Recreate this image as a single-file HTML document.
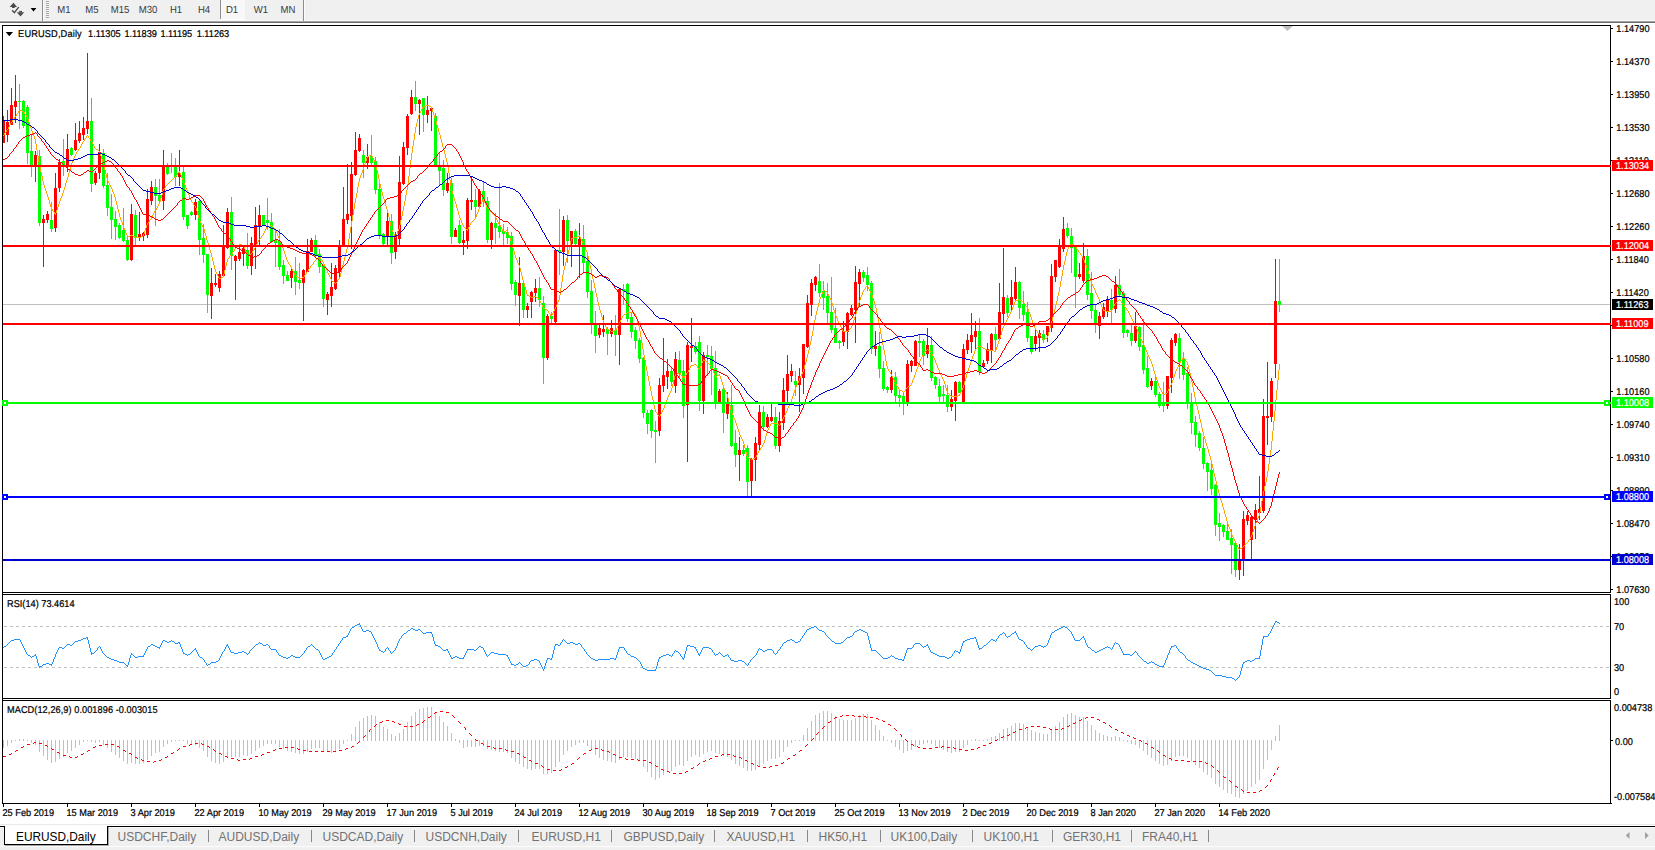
<!DOCTYPE html>
<html><head><meta charset="utf-8"><title>EURUSD,Daily</title>
<style>
html,body{margin:0;padding:0;background:#fff;}
body{width:1655px;height:850px;position:relative;overflow:hidden;font-family:"Liberation Sans",sans-serif;}
.abs{position:absolute;}
#tb{left:0;top:0;width:1655px;height:21px;background:#f0f0f0;}
.tf{position:absolute;top:4.6px;font-size:10.3px;color:#3a3a3a;line-height:12px;white-space:nowrap;transform:translateX(-50%) scale(0.93,1);text-rendering:geometricPrecision;}
#tabs{left:0;top:825px;width:1655px;height:25px;background:#f0f0f0;}
.tab{position:absolute;top:4.5px;font-size:12px;line-height:14px;color:#727272;white-space:nowrap;}
.sep{position:absolute;top:5px;width:1px;height:12px;background:#8a8a8a;}
svg text{font-family:"Liberation Sans",sans-serif;font-size:9.9px;text-rendering:geometricPrecision;stroke:#000;stroke-width:0.22px;}
svg text.w{fill:#fff;stroke:#fff;}
</style></head><body>

<div id="tb" class="abs"></div>
<div class="abs" style="left:0;top:20px;width:1655px;height:1px;background:#f7f7f7"></div>
<div class="abs" style="left:0;top:21px;width:1655px;height:1px;background:#a6a6a6"></div>
<div class="abs" style="left:0;top:22px;width:1655px;height:1px;background:#6a6a6a"></div>
<svg class="abs" style="left:0;top:0" width="320" height="21" viewBox="0 0 320 21">
<polygon points="13.4,2.7 17.1,6.9 9.7,6.9" fill="#4a4a4a"/><rect x="12.1" y="6.8" width="2.7" height="1.2" fill="#4a4a4a"/>
<polyline points="12.1,10.3 14.35,12.7 18.7,7.1" fill="none" stroke="#4a4a4a" stroke-width="1.35"/>
<rect x="19.2" y="10.9" width="2.8" height="1.4" fill="#4a4a4a"/><polygon points="16.8,12.2 24.2,12.2 20.5,16.4" fill="#4a4a4a"/>
<polygon points="30.6,8 36.4,8 33.5,11.4" fill="#000"/>
<rect x="42" y="0" width="1" height="21" fill="#8c8c8c"/><rect x="43" y="0" width="1" height="21" fill="#fbfbfb"/>
<g fill="#a8a8a8">
<rect x="46" y="1" width="3" height="1"/>
<rect x="46" y="3" width="3" height="1"/>
<rect x="46" y="5" width="3" height="1"/>
<rect x="46" y="7" width="3" height="1"/>
<rect x="46" y="9" width="3" height="1"/>
<rect x="46" y="11" width="3" height="1"/>
<rect x="46" y="13" width="3" height="1"/>
<rect x="46" y="15" width="3" height="1"/>
<rect x="46" y="17" width="3" height="1"/>
</g>
<rect x="220" y="0" width="1" height="19" fill="#8f8f8f"/>
<rect x="221" y="0" width="24" height="19" fill="#f8f8f8"/>
<rect x="220" y="19" width="25" height="1" fill="#fdfdfd"/>
<rect x="303" y="0" width="1" height="21" fill="#8c8c8c"/><rect x="304" y="0" width="1" height="21" fill="#fbfbfb"/>
</svg>
<div class="tf" style="left:63.8px">M1</div>
<div class="tf" style="left:92.0px">M5</div>
<div class="tf" style="left:120.4px">M15</div>
<div class="tf" style="left:148.0px">M30</div>
<div class="tf" style="left:176.4px">H1</div>
<div class="tf" style="left:204.0px">H4</div>
<div class="tf" style="left:232.4px">D1</div>
<div class="tf" style="left:261.0px">W1</div>
<div class="tf" style="left:288.0px">MN</div>
<svg class="abs" style="left:0;top:23px" width="1655" height="802" viewBox="0 23 1655 802">
<g shape-rendering="crispEdges">
<rect x="2" y="25" width="1609" height="1" fill="#000"/>
<rect x="2" y="25" width="1" height="779" fill="#000"/>
<rect x="1610" y="25" width="1" height="779" fill="#000"/>
<rect x="2" y="592" width="1609" height="1" fill="#000"/>
<rect x="2" y="593" width="1609" height="1" fill="#fff"/>
<rect x="2" y="594" width="1609" height="1" fill="#000"/>
<rect x="2" y="698" width="1609" height="1" fill="#000"/>
<rect x="2" y="699" width="1609" height="1" fill="#fff"/>
<rect x="2" y="700" width="1609" height="1" fill="#000"/>
<rect x="2" y="803" width="1610" height="1" fill="#000"/>
<rect x="1611" y="28" width="2" height="1" fill="#000"/>
<rect x="1611" y="61" width="2" height="1" fill="#000"/>
<rect x="1611" y="94" width="2" height="1" fill="#000"/>
<rect x="1611" y="127" width="2" height="1" fill="#000"/>
<rect x="1611" y="160" width="2" height="1" fill="#000"/>
<rect x="1611" y="193" width="2" height="1" fill="#000"/>
<rect x="1611" y="226" width="2" height="1" fill="#000"/>
<rect x="1611" y="259" width="2" height="1" fill="#000"/>
<rect x="1611" y="292" width="2" height="1" fill="#000"/>
<rect x="1611" y="325" width="2" height="1" fill="#000"/>
<rect x="1611" y="358" width="2" height="1" fill="#000"/>
<rect x="1611" y="391" width="2" height="1" fill="#000"/>
<rect x="1611" y="424" width="2" height="1" fill="#000"/>
<rect x="1611" y="457" width="2" height="1" fill="#000"/>
<rect x="1611" y="490" width="2" height="1" fill="#000"/>
<rect x="1611" y="523" width="2" height="1" fill="#000"/>
<rect x="1611" y="556" width="2" height="1" fill="#000"/>
<rect x="1611" y="589" width="2" height="1" fill="#000"/>
<rect x="1611" y="740" width="2" height="1" fill="#000"/>
<rect x="3" y="804" width="1" height="3" fill="#000"/>
<rect x="67" y="804" width="1" height="3" fill="#000"/>
<rect x="131" y="804" width="1" height="3" fill="#000"/>
<rect x="195" y="804" width="1" height="3" fill="#000"/>
<rect x="259" y="804" width="1" height="3" fill="#000"/>
<rect x="323" y="804" width="1" height="3" fill="#000"/>
<rect x="387" y="804" width="1" height="3" fill="#000"/>
<rect x="451" y="804" width="1" height="3" fill="#000"/>
<rect x="515" y="804" width="1" height="3" fill="#000"/>
<rect x="579" y="804" width="1" height="3" fill="#000"/>
<rect x="643" y="804" width="1" height="3" fill="#000"/>
<rect x="707" y="804" width="1" height="3" fill="#000"/>
<rect x="771" y="804" width="1" height="3" fill="#000"/>
<rect x="835" y="804" width="1" height="3" fill="#000"/>
<rect x="899" y="804" width="1" height="3" fill="#000"/>
<rect x="963" y="804" width="1" height="3" fill="#000"/>
<rect x="1027" y="804" width="1" height="3" fill="#000"/>
<rect x="1091" y="804" width="1" height="3" fill="#000"/>
<rect x="1155" y="804" width="1" height="3" fill="#000"/>
<rect x="1219" y="804" width="1" height="3" fill="#000"/>
<rect x="3" y="304" width="1607" height="1" fill="#c0c0c0"/>
</g>
<g shape-rendering="crispEdges">
<rect x="3" y="116" width="1" height="27" fill="#ff0000"/>
<rect x="2" y="121" width="3" height="22" fill="#ff0000"/>
<rect x="7" y="110" width="1" height="32" fill="#ff0000"/>
<rect x="6" y="122" width="3" height="13" fill="#ff0000"/>
<rect x="11" y="88" width="1" height="37" fill="#ff0000"/>
<rect x="10" y="105" width="3" height="20" fill="#ff0000"/>
<rect x="15" y="75" width="1" height="48" fill="#ff0000"/>
<rect x="14" y="101" width="3" height="6" fill="#ff0000"/>
<rect x="19" y="84" width="1" height="45" fill="#00ff00"/>
<rect x="18" y="101" width="3" height="1" fill="#00ff00"/>
<rect x="23" y="100" width="1" height="28" fill="#00ff00"/>
<rect x="22" y="101" width="3" height="25" fill="#00ff00"/>
<rect x="27" y="105" width="1" height="59" fill="#00ff00"/>
<rect x="26" y="107" width="3" height="46" fill="#00ff00"/>
<rect x="31" y="135" width="1" height="42" fill="#00ff00"/>
<rect x="30" y="151" width="3" height="15" fill="#00ff00"/>
<rect x="35" y="151" width="1" height="31" fill="#ff0000"/>
<rect x="34" y="155" width="3" height="12" fill="#ff0000"/>
<rect x="39" y="150" width="1" height="76" fill="#00ff00"/>
<rect x="38" y="156" width="3" height="67" fill="#00ff00"/>
<rect x="43" y="215" width="1" height="52" fill="#ff0000"/>
<rect x="42" y="219" width="3" height="4" fill="#ff0000"/>
<rect x="47" y="211" width="1" height="12" fill="#ff0000"/>
<rect x="46" y="214" width="3" height="6" fill="#ff0000"/>
<rect x="51" y="202" width="1" height="30" fill="#00ff00"/>
<rect x="50" y="220" width="3" height="9" fill="#00ff00"/>
<rect x="55" y="173" width="1" height="59" fill="#ff0000"/>
<rect x="54" y="188" width="3" height="40" fill="#ff0000"/>
<rect x="59" y="159" width="1" height="33" fill="#ff0000"/>
<rect x="58" y="162" width="3" height="26" fill="#ff0000"/>
<rect x="63" y="139" width="1" height="37" fill="#00ff00"/>
<rect x="62" y="161" width="3" height="5" fill="#00ff00"/>
<rect x="67" y="134" width="1" height="38" fill="#ff0000"/>
<rect x="66" y="149" width="3" height="17" fill="#ff0000"/>
<rect x="71" y="147" width="1" height="9" fill="#00ff00"/>
<rect x="70" y="148" width="3" height="7" fill="#00ff00"/>
<rect x="75" y="123" width="1" height="28" fill="#ff0000"/>
<rect x="74" y="140" width="3" height="10" fill="#ff0000"/>
<rect x="79" y="121" width="1" height="22" fill="#ff0000"/>
<rect x="78" y="133" width="3" height="8" fill="#ff0000"/>
<rect x="83" y="117" width="1" height="23" fill="#ff0000"/>
<rect x="82" y="128" width="3" height="7" fill="#ff0000"/>
<rect x="87" y="53" width="1" height="81" fill="#ff0000"/>
<rect x="86" y="121" width="3" height="8" fill="#ff0000"/>
<rect x="91" y="98" width="1" height="94" fill="#00ff00"/>
<rect x="90" y="121" width="3" height="63" fill="#00ff00"/>
<rect x="95" y="171" width="1" height="14" fill="#ff0000"/>
<rect x="94" y="173" width="3" height="10" fill="#ff0000"/>
<rect x="99" y="144" width="1" height="35" fill="#ff0000"/>
<rect x="98" y="152" width="3" height="21" fill="#ff0000"/>
<rect x="103" y="149" width="1" height="39" fill="#00ff00"/>
<rect x="102" y="153" width="3" height="33" fill="#00ff00"/>
<rect x="107" y="173" width="1" height="43" fill="#00ff00"/>
<rect x="106" y="185" width="3" height="23" fill="#00ff00"/>
<rect x="111" y="194" width="1" height="45" fill="#00ff00"/>
<rect x="110" y="207" width="3" height="13" fill="#00ff00"/>
<rect x="115" y="211" width="1" height="29" fill="#00ff00"/>
<rect x="114" y="219" width="3" height="8" fill="#00ff00"/>
<rect x="119" y="223" width="1" height="16" fill="#00ff00"/>
<rect x="118" y="225" width="3" height="13" fill="#00ff00"/>
<rect x="123" y="208" width="1" height="34" fill="#00ff00"/>
<rect x="122" y="230" width="3" height="11" fill="#00ff00"/>
<rect x="127" y="237" width="1" height="24" fill="#00ff00"/>
<rect x="126" y="240" width="3" height="20" fill="#00ff00"/>
<rect x="131" y="204" width="1" height="57" fill="#ff0000"/>
<rect x="130" y="214" width="3" height="46" fill="#ff0000"/>
<rect x="135" y="210" width="1" height="35" fill="#00ff00"/>
<rect x="134" y="215" width="3" height="23" fill="#00ff00"/>
<rect x="139" y="212" width="1" height="29" fill="#ff0000"/>
<rect x="138" y="234" width="3" height="3" fill="#ff0000"/>
<rect x="143" y="232" width="1" height="9" fill="#ff0000"/>
<rect x="142" y="233" width="3" height="3" fill="#ff0000"/>
<rect x="147" y="189" width="1" height="49" fill="#ff0000"/>
<rect x="146" y="199" width="3" height="36" fill="#ff0000"/>
<rect x="151" y="181" width="1" height="24" fill="#ff0000"/>
<rect x="150" y="187" width="3" height="14" fill="#ff0000"/>
<rect x="155" y="179" width="1" height="47" fill="#00ff00"/>
<rect x="154" y="187" width="3" height="9" fill="#00ff00"/>
<rect x="159" y="179" width="1" height="23" fill="#00ff00"/>
<rect x="158" y="195" width="3" height="6" fill="#00ff00"/>
<rect x="163" y="150" width="1" height="60" fill="#ff0000"/>
<rect x="162" y="166" width="3" height="35" fill="#ff0000"/>
<rect x="167" y="163" width="1" height="12" fill="#00ff00"/>
<rect x="166" y="166" width="3" height="8" fill="#00ff00"/>
<rect x="171" y="153" width="1" height="20" fill="#00ff00"/>
<rect x="170" y="165" width="3" height="2" fill="#00ff00"/>
<rect x="175" y="158" width="1" height="28" fill="#00ff00"/>
<rect x="174" y="167" width="3" height="10" fill="#00ff00"/>
<rect x="179" y="150" width="1" height="36" fill="#ff0000"/>
<rect x="178" y="173" width="3" height="4" fill="#ff0000"/>
<rect x="183" y="167" width="1" height="53" fill="#00ff00"/>
<rect x="182" y="172" width="3" height="45" fill="#00ff00"/>
<rect x="187" y="215" width="1" height="14" fill="#00ff00"/>
<rect x="186" y="215" width="3" height="11" fill="#00ff00"/>
<rect x="191" y="211" width="1" height="5" fill="#00ff00"/>
<rect x="190" y="212" width="3" height="3" fill="#00ff00"/>
<rect x="195" y="199" width="1" height="21" fill="#ff0000"/>
<rect x="194" y="202" width="3" height="13" fill="#ff0000"/>
<rect x="199" y="200" width="1" height="55" fill="#00ff00"/>
<rect x="198" y="201" width="3" height="39" fill="#00ff00"/>
<rect x="203" y="224" width="1" height="39" fill="#00ff00"/>
<rect x="202" y="238" width="3" height="17" fill="#00ff00"/>
<rect x="207" y="254" width="1" height="59" fill="#00ff00"/>
<rect x="206" y="254" width="3" height="41" fill="#00ff00"/>
<rect x="211" y="268" width="1" height="51" fill="#ff0000"/>
<rect x="210" y="283" width="3" height="13" fill="#ff0000"/>
<rect x="215" y="274" width="1" height="13" fill="#ff0000"/>
<rect x="214" y="283" width="3" height="2" fill="#ff0000"/>
<rect x="219" y="271" width="1" height="21" fill="#ff0000"/>
<rect x="218" y="274" width="3" height="14" fill="#ff0000"/>
<rect x="223" y="225" width="1" height="52" fill="#ff0000"/>
<rect x="222" y="245" width="3" height="31" fill="#ff0000"/>
<rect x="227" y="208" width="1" height="41" fill="#ff0000"/>
<rect x="226" y="212" width="3" height="36" fill="#ff0000"/>
<rect x="231" y="197" width="1" height="73" fill="#00ff00"/>
<rect x="230" y="212" width="3" height="44" fill="#00ff00"/>
<rect x="235" y="255" width="1" height="45" fill="#ff0000"/>
<rect x="234" y="256" width="3" height="5" fill="#ff0000"/>
<rect x="239" y="247" width="1" height="14" fill="#ff0000"/>
<rect x="238" y="252" width="3" height="7" fill="#ff0000"/>
<rect x="243" y="247" width="1" height="19" fill="#ff0000"/>
<rect x="242" y="248" width="3" height="6" fill="#ff0000"/>
<rect x="247" y="233" width="1" height="36" fill="#00ff00"/>
<rect x="246" y="250" width="3" height="16" fill="#00ff00"/>
<rect x="251" y="237" width="1" height="38" fill="#ff0000"/>
<rect x="250" y="243" width="3" height="23" fill="#ff0000"/>
<rect x="255" y="207" width="1" height="62" fill="#ff0000"/>
<rect x="254" y="225" width="3" height="20" fill="#ff0000"/>
<rect x="259" y="205" width="1" height="42" fill="#ff0000"/>
<rect x="258" y="215" width="3" height="11" fill="#ff0000"/>
<rect x="263" y="215" width="1" height="11" fill="#00ff00"/>
<rect x="262" y="215" width="3" height="10" fill="#00ff00"/>
<rect x="267" y="198" width="1" height="32" fill="#00ff00"/>
<rect x="266" y="220" width="3" height="3" fill="#00ff00"/>
<rect x="271" y="213" width="1" height="30" fill="#00ff00"/>
<rect x="270" y="222" width="3" height="20" fill="#00ff00"/>
<rect x="275" y="229" width="1" height="38" fill="#00ff00"/>
<rect x="274" y="240" width="3" height="3" fill="#00ff00"/>
<rect x="279" y="229" width="1" height="41" fill="#00ff00"/>
<rect x="278" y="241" width="3" height="26" fill="#00ff00"/>
<rect x="283" y="260" width="1" height="24" fill="#00ff00"/>
<rect x="282" y="265" width="3" height="11" fill="#00ff00"/>
<rect x="287" y="271" width="1" height="10" fill="#00ff00"/>
<rect x="286" y="275" width="3" height="6" fill="#00ff00"/>
<rect x="291" y="268" width="1" height="20" fill="#ff0000"/>
<rect x="290" y="271" width="3" height="7" fill="#ff0000"/>
<rect x="295" y="257" width="1" height="38" fill="#00ff00"/>
<rect x="294" y="271" width="3" height="11" fill="#00ff00"/>
<rect x="299" y="263" width="1" height="26" fill="#00ff00"/>
<rect x="298" y="280" width="3" height="3" fill="#00ff00"/>
<rect x="303" y="269" width="1" height="52" fill="#ff0000"/>
<rect x="302" y="270" width="3" height="13" fill="#ff0000"/>
<rect x="307" y="239" width="1" height="33" fill="#ff0000"/>
<rect x="306" y="251" width="3" height="21" fill="#ff0000"/>
<rect x="311" y="238" width="1" height="14" fill="#ff0000"/>
<rect x="310" y="240" width="3" height="12" fill="#ff0000"/>
<rect x="315" y="235" width="1" height="23" fill="#00ff00"/>
<rect x="314" y="240" width="3" height="16" fill="#00ff00"/>
<rect x="319" y="249" width="1" height="24" fill="#00ff00"/>
<rect x="318" y="254" width="3" height="13" fill="#00ff00"/>
<rect x="323" y="265" width="1" height="42" fill="#00ff00"/>
<rect x="322" y="266" width="3" height="33" fill="#00ff00"/>
<rect x="327" y="292" width="1" height="23" fill="#ff0000"/>
<rect x="326" y="294" width="3" height="6" fill="#ff0000"/>
<rect x="331" y="263" width="1" height="44" fill="#ff0000"/>
<rect x="330" y="287" width="3" height="9" fill="#ff0000"/>
<rect x="335" y="265" width="1" height="25" fill="#ff0000"/>
<rect x="334" y="268" width="3" height="21" fill="#ff0000"/>
<rect x="339" y="240" width="1" height="38" fill="#ff0000"/>
<rect x="338" y="245" width="3" height="27" fill="#ff0000"/>
<rect x="343" y="187" width="1" height="59" fill="#ff0000"/>
<rect x="342" y="219" width="3" height="27" fill="#ff0000"/>
<rect x="347" y="164" width="1" height="60" fill="#ff0000"/>
<rect x="346" y="214" width="3" height="6" fill="#ff0000"/>
<rect x="351" y="162" width="1" height="87" fill="#ff0000"/>
<rect x="350" y="174" width="3" height="42" fill="#ff0000"/>
<rect x="355" y="132" width="1" height="44" fill="#ff0000"/>
<rect x="354" y="150" width="3" height="25" fill="#ff0000"/>
<rect x="359" y="134" width="1" height="18" fill="#ff0000"/>
<rect x="358" y="138" width="3" height="13" fill="#ff0000"/>
<rect x="363" y="150" width="1" height="28" fill="#00ff00"/>
<rect x="362" y="155" width="3" height="8" fill="#00ff00"/>
<rect x="367" y="144" width="1" height="25" fill="#ff0000"/>
<rect x="366" y="157" width="3" height="6" fill="#ff0000"/>
<rect x="371" y="135" width="1" height="30" fill="#00ff00"/>
<rect x="370" y="156" width="3" height="7" fill="#00ff00"/>
<rect x="375" y="157" width="1" height="37" fill="#00ff00"/>
<rect x="374" y="161" width="3" height="29" fill="#00ff00"/>
<rect x="379" y="183" width="1" height="56" fill="#00ff00"/>
<rect x="378" y="189" width="3" height="46" fill="#00ff00"/>
<rect x="383" y="233" width="1" height="13" fill="#00ff00"/>
<rect x="382" y="234" width="3" height="10" fill="#00ff00"/>
<rect x="387" y="212" width="1" height="34" fill="#ff0000"/>
<rect x="386" y="221" width="3" height="16" fill="#ff0000"/>
<rect x="391" y="214" width="1" height="50" fill="#00ff00"/>
<rect x="390" y="221" width="3" height="32" fill="#00ff00"/>
<rect x="395" y="232" width="1" height="27" fill="#ff0000"/>
<rect x="394" y="236" width="3" height="16" fill="#ff0000"/>
<rect x="399" y="156" width="1" height="89" fill="#ff0000"/>
<rect x="398" y="182" width="3" height="57" fill="#ff0000"/>
<rect x="403" y="142" width="1" height="43" fill="#ff0000"/>
<rect x="402" y="147" width="3" height="37" fill="#ff0000"/>
<rect x="407" y="114" width="1" height="41" fill="#ff0000"/>
<rect x="406" y="116" width="3" height="32" fill="#ff0000"/>
<rect x="411" y="90" width="1" height="25" fill="#ff0000"/>
<rect x="410" y="97" width="3" height="17" fill="#ff0000"/>
<rect x="415" y="81" width="1" height="30" fill="#00ff00"/>
<rect x="414" y="97" width="3" height="7" fill="#00ff00"/>
<rect x="419" y="99" width="1" height="36" fill="#ff0000"/>
<rect x="418" y="100" width="3" height="4" fill="#ff0000"/>
<rect x="423" y="98" width="1" height="34" fill="#00ff00"/>
<rect x="422" y="98" width="3" height="17" fill="#00ff00"/>
<rect x="427" y="96" width="1" height="27" fill="#ff0000"/>
<rect x="426" y="110" width="3" height="5" fill="#ff0000"/>
<rect x="431" y="107" width="1" height="24" fill="#ff0000"/>
<rect x="430" y="108" width="3" height="3" fill="#ff0000"/>
<rect x="435" y="113" width="1" height="54" fill="#00ff00"/>
<rect x="434" y="116" width="3" height="50" fill="#00ff00"/>
<rect x="439" y="153" width="1" height="33" fill="#00ff00"/>
<rect x="438" y="165" width="3" height="6" fill="#00ff00"/>
<rect x="443" y="160" width="1" height="36" fill="#00ff00"/>
<rect x="442" y="168" width="3" height="22" fill="#00ff00"/>
<rect x="447" y="173" width="1" height="20" fill="#ff0000"/>
<rect x="446" y="183" width="3" height="8" fill="#ff0000"/>
<rect x="451" y="178" width="1" height="66" fill="#00ff00"/>
<rect x="450" y="183" width="3" height="54" fill="#00ff00"/>
<rect x="455" y="228" width="1" height="9" fill="#ff0000"/>
<rect x="454" y="230" width="3" height="7" fill="#ff0000"/>
<rect x="459" y="220" width="1" height="24" fill="#00ff00"/>
<rect x="458" y="225" width="3" height="18" fill="#00ff00"/>
<rect x="463" y="231" width="1" height="24" fill="#ff0000"/>
<rect x="462" y="240" width="3" height="3" fill="#ff0000"/>
<rect x="467" y="198" width="1" height="51" fill="#ff0000"/>
<rect x="466" y="200" width="3" height="41" fill="#ff0000"/>
<rect x="471" y="177" width="1" height="33" fill="#ff0000"/>
<rect x="470" y="200" width="3" height="2" fill="#ff0000"/>
<rect x="475" y="189" width="1" height="28" fill="#00ff00"/>
<rect x="474" y="200" width="3" height="7" fill="#00ff00"/>
<rect x="479" y="189" width="1" height="18" fill="#ff0000"/>
<rect x="478" y="191" width="3" height="16" fill="#ff0000"/>
<rect x="483" y="182" width="1" height="25" fill="#00ff00"/>
<rect x="482" y="191" width="3" height="10" fill="#00ff00"/>
<rect x="487" y="197" width="1" height="46" fill="#00ff00"/>
<rect x="486" y="201" width="3" height="39" fill="#00ff00"/>
<rect x="491" y="222" width="1" height="27" fill="#ff0000"/>
<rect x="490" y="223" width="3" height="17" fill="#ff0000"/>
<rect x="495" y="213" width="1" height="31" fill="#00ff00"/>
<rect x="494" y="223" width="3" height="5" fill="#00ff00"/>
<rect x="499" y="183" width="1" height="55" fill="#00ff00"/>
<rect x="498" y="226" width="3" height="6" fill="#00ff00"/>
<rect x="503" y="224" width="1" height="22" fill="#00ff00"/>
<rect x="502" y="231" width="3" height="3" fill="#00ff00"/>
<rect x="507" y="227" width="1" height="17" fill="#00ff00"/>
<rect x="506" y="232" width="3" height="6" fill="#00ff00"/>
<rect x="511" y="232" width="1" height="58" fill="#00ff00"/>
<rect x="510" y="236" width="3" height="48" fill="#00ff00"/>
<rect x="515" y="280" width="1" height="26" fill="#00ff00"/>
<rect x="514" y="282" width="3" height="13" fill="#00ff00"/>
<rect x="519" y="257" width="1" height="69" fill="#ff0000"/>
<rect x="518" y="283" width="3" height="13" fill="#ff0000"/>
<rect x="523" y="282" width="1" height="36" fill="#00ff00"/>
<rect x="522" y="283" width="3" height="27" fill="#00ff00"/>
<rect x="527" y="303" width="1" height="15" fill="#ff0000"/>
<rect x="526" y="306" width="3" height="4" fill="#ff0000"/>
<rect x="531" y="291" width="1" height="27" fill="#ff0000"/>
<rect x="530" y="292" width="3" height="10" fill="#ff0000"/>
<rect x="535" y="279" width="1" height="23" fill="#ff0000"/>
<rect x="534" y="288" width="3" height="5" fill="#ff0000"/>
<rect x="539" y="277" width="1" height="30" fill="#00ff00"/>
<rect x="538" y="288" width="3" height="12" fill="#00ff00"/>
<rect x="543" y="296" width="1" height="88" fill="#00ff00"/>
<rect x="542" y="303" width="3" height="55" fill="#00ff00"/>
<rect x="547" y="314" width="1" height="46" fill="#ff0000"/>
<rect x="546" y="316" width="3" height="42" fill="#ff0000"/>
<rect x="551" y="312" width="1" height="11" fill="#00ff00"/>
<rect x="550" y="316" width="3" height="3" fill="#00ff00"/>
<rect x="555" y="249" width="1" height="74" fill="#ff0000"/>
<rect x="554" y="250" width="3" height="72" fill="#ff0000"/>
<rect x="559" y="209" width="1" height="66" fill="#00ff00"/>
<rect x="558" y="250" width="3" height="2" fill="#00ff00"/>
<rect x="563" y="216" width="1" height="50" fill="#ff0000"/>
<rect x="562" y="220" width="3" height="32" fill="#ff0000"/>
<rect x="567" y="215" width="1" height="48" fill="#00ff00"/>
<rect x="566" y="220" width="3" height="21" fill="#00ff00"/>
<rect x="571" y="231" width="1" height="36" fill="#ff0000"/>
<rect x="570" y="231" width="3" height="13" fill="#ff0000"/>
<rect x="575" y="229" width="1" height="17" fill="#00ff00"/>
<rect x="574" y="231" width="3" height="13" fill="#00ff00"/>
<rect x="579" y="223" width="1" height="55" fill="#ff0000"/>
<rect x="578" y="239" width="3" height="8" fill="#ff0000"/>
<rect x="583" y="225" width="1" height="48" fill="#00ff00"/>
<rect x="582" y="239" width="3" height="24" fill="#00ff00"/>
<rect x="587" y="256" width="1" height="42" fill="#00ff00"/>
<rect x="586" y="261" width="3" height="31" fill="#00ff00"/>
<rect x="591" y="280" width="1" height="54" fill="#00ff00"/>
<rect x="590" y="291" width="3" height="32" fill="#00ff00"/>
<rect x="595" y="311" width="1" height="42" fill="#00ff00"/>
<rect x="594" y="324" width="3" height="12" fill="#00ff00"/>
<rect x="599" y="325" width="1" height="13" fill="#ff0000"/>
<rect x="598" y="328" width="3" height="7" fill="#ff0000"/>
<rect x="603" y="315" width="1" height="22" fill="#ff0000"/>
<rect x="602" y="329" width="3" height="3" fill="#ff0000"/>
<rect x="607" y="327" width="1" height="28" fill="#00ff00"/>
<rect x="606" y="329" width="3" height="5" fill="#00ff00"/>
<rect x="611" y="320" width="1" height="17" fill="#ff0000"/>
<rect x="610" y="328" width="3" height="6" fill="#ff0000"/>
<rect x="615" y="315" width="1" height="41" fill="#00ff00"/>
<rect x="614" y="330" width="3" height="5" fill="#00ff00"/>
<rect x="619" y="288" width="1" height="77" fill="#ff0000"/>
<rect x="618" y="289" width="3" height="46" fill="#ff0000"/>
<rect x="623" y="284" width="1" height="21" fill="#00ff00"/>
<rect x="622" y="289" width="3" height="2" fill="#00ff00"/>
<rect x="627" y="283" width="1" height="39" fill="#00ff00"/>
<rect x="626" y="284" width="3" height="35" fill="#00ff00"/>
<rect x="631" y="312" width="1" height="26" fill="#00ff00"/>
<rect x="630" y="317" width="3" height="15" fill="#00ff00"/>
<rect x="635" y="327" width="1" height="22" fill="#00ff00"/>
<rect x="634" y="330" width="3" height="11" fill="#00ff00"/>
<rect x="639" y="338" width="1" height="25" fill="#00ff00"/>
<rect x="638" y="340" width="3" height="19" fill="#00ff00"/>
<rect x="643" y="357" width="1" height="61" fill="#00ff00"/>
<rect x="642" y="358" width="3" height="55" fill="#00ff00"/>
<rect x="647" y="410" width="1" height="24" fill="#00ff00"/>
<rect x="646" y="413" width="3" height="11" fill="#00ff00"/>
<rect x="651" y="409" width="1" height="29" fill="#00ff00"/>
<rect x="650" y="410" width="3" height="21" fill="#00ff00"/>
<rect x="655" y="421" width="1" height="42" fill="#00ff00"/>
<rect x="654" y="430" width="3" height="2" fill="#00ff00"/>
<rect x="659" y="378" width="1" height="58" fill="#ff0000"/>
<rect x="658" y="385" width="3" height="46" fill="#ff0000"/>
<rect x="663" y="338" width="1" height="54" fill="#ff0000"/>
<rect x="662" y="375" width="3" height="11" fill="#ff0000"/>
<rect x="667" y="359" width="1" height="30" fill="#ff0000"/>
<rect x="666" y="371" width="3" height="6" fill="#ff0000"/>
<rect x="671" y="367" width="1" height="19" fill="#00ff00"/>
<rect x="670" y="371" width="3" height="11" fill="#00ff00"/>
<rect x="675" y="352" width="1" height="41" fill="#ff0000"/>
<rect x="674" y="359" width="3" height="27" fill="#ff0000"/>
<rect x="679" y="351" width="1" height="27" fill="#00ff00"/>
<rect x="678" y="360" width="3" height="13" fill="#00ff00"/>
<rect x="683" y="360" width="1" height="58" fill="#00ff00"/>
<rect x="682" y="371" width="3" height="35" fill="#00ff00"/>
<rect x="687" y="342" width="1" height="120" fill="#ff0000"/>
<rect x="686" y="345" width="3" height="60" fill="#ff0000"/>
<rect x="691" y="318" width="1" height="44" fill="#ff0000"/>
<rect x="690" y="346" width="3" height="2" fill="#ff0000"/>
<rect x="695" y="342" width="1" height="12" fill="#00ff00"/>
<rect x="694" y="346" width="3" height="6" fill="#00ff00"/>
<rect x="699" y="336" width="1" height="75" fill="#00ff00"/>
<rect x="698" y="342" width="3" height="59" fill="#00ff00"/>
<rect x="703" y="352" width="1" height="62" fill="#ff0000"/>
<rect x="702" y="355" width="3" height="46" fill="#ff0000"/>
<rect x="707" y="345" width="1" height="31" fill="#00ff00"/>
<rect x="706" y="355" width="3" height="2" fill="#00ff00"/>
<rect x="711" y="346" width="1" height="49" fill="#00ff00"/>
<rect x="710" y="356" width="3" height="13" fill="#00ff00"/>
<rect x="715" y="351" width="1" height="58" fill="#00ff00"/>
<rect x="714" y="368" width="3" height="35" fill="#00ff00"/>
<rect x="719" y="389" width="1" height="14" fill="#ff0000"/>
<rect x="718" y="391" width="3" height="12" fill="#ff0000"/>
<rect x="723" y="385" width="1" height="48" fill="#00ff00"/>
<rect x="722" y="389" width="3" height="24" fill="#00ff00"/>
<rect x="727" y="392" width="1" height="27" fill="#ff0000"/>
<rect x="726" y="404" width="3" height="10" fill="#ff0000"/>
<rect x="731" y="385" width="1" height="62" fill="#00ff00"/>
<rect x="730" y="405" width="3" height="41" fill="#00ff00"/>
<rect x="735" y="430" width="1" height="37" fill="#00ff00"/>
<rect x="734" y="443" width="3" height="12" fill="#00ff00"/>
<rect x="739" y="437" width="1" height="44" fill="#ff0000"/>
<rect x="738" y="450" width="3" height="5" fill="#ff0000"/>
<rect x="743" y="445" width="1" height="11" fill="#00ff00"/>
<rect x="742" y="450" width="3" height="4" fill="#00ff00"/>
<rect x="747" y="445" width="1" height="51" fill="#00ff00"/>
<rect x="746" y="448" width="3" height="34" fill="#00ff00"/>
<rect x="751" y="458" width="1" height="39" fill="#ff0000"/>
<rect x="750" y="459" width="3" height="22" fill="#ff0000"/>
<rect x="755" y="437" width="1" height="44" fill="#ff0000"/>
<rect x="754" y="443" width="3" height="17" fill="#ff0000"/>
<rect x="759" y="405" width="1" height="45" fill="#ff0000"/>
<rect x="758" y="412" width="3" height="33" fill="#ff0000"/>
<rect x="763" y="406" width="1" height="25" fill="#00ff00"/>
<rect x="762" y="412" width="3" height="15" fill="#00ff00"/>
<rect x="767" y="414" width="1" height="14" fill="#ff0000"/>
<rect x="766" y="417" width="3" height="10" fill="#ff0000"/>
<rect x="771" y="404" width="1" height="18" fill="#ff0000"/>
<rect x="770" y="417" width="3" height="4" fill="#ff0000"/>
<rect x="775" y="407" width="1" height="42" fill="#00ff00"/>
<rect x="774" y="417" width="3" height="29" fill="#00ff00"/>
<rect x="779" y="412" width="1" height="40" fill="#ff0000"/>
<rect x="778" y="421" width="3" height="25" fill="#ff0000"/>
<rect x="783" y="378" width="1" height="52" fill="#ff0000"/>
<rect x="782" y="390" width="3" height="33" fill="#ff0000"/>
<rect x="787" y="355" width="1" height="48" fill="#ff0000"/>
<rect x="786" y="374" width="3" height="17" fill="#ff0000"/>
<rect x="791" y="364" width="1" height="18" fill="#ff0000"/>
<rect x="790" y="371" width="3" height="5" fill="#ff0000"/>
<rect x="795" y="371" width="1" height="25" fill="#00ff00"/>
<rect x="794" y="381" width="3" height="4" fill="#00ff00"/>
<rect x="799" y="368" width="1" height="44" fill="#ff0000"/>
<rect x="798" y="376" width="3" height="9" fill="#ff0000"/>
<rect x="803" y="344" width="1" height="50" fill="#ff0000"/>
<rect x="802" y="344" width="3" height="34" fill="#ff0000"/>
<rect x="807" y="295" width="1" height="53" fill="#ff0000"/>
<rect x="806" y="303" width="3" height="44" fill="#ff0000"/>
<rect x="811" y="279" width="1" height="37" fill="#ff0000"/>
<rect x="810" y="283" width="3" height="22" fill="#ff0000"/>
<rect x="815" y="276" width="1" height="15" fill="#ff0000"/>
<rect x="814" y="277" width="3" height="8" fill="#ff0000"/>
<rect x="819" y="264" width="1" height="33" fill="#00ff00"/>
<rect x="818" y="281" width="3" height="12" fill="#00ff00"/>
<rect x="823" y="281" width="1" height="29" fill="#00ff00"/>
<rect x="822" y="291" width="3" height="7" fill="#00ff00"/>
<rect x="827" y="283" width="1" height="40" fill="#00ff00"/>
<rect x="826" y="296" width="3" height="17" fill="#00ff00"/>
<rect x="831" y="277" width="1" height="56" fill="#00ff00"/>
<rect x="830" y="312" width="3" height="18" fill="#00ff00"/>
<rect x="835" y="308" width="1" height="35" fill="#00ff00"/>
<rect x="834" y="328" width="3" height="15" fill="#00ff00"/>
<rect x="839" y="340" width="1" height="9" fill="#00ff00"/>
<rect x="838" y="341" width="3" height="2" fill="#00ff00"/>
<rect x="843" y="321" width="1" height="25" fill="#ff0000"/>
<rect x="842" y="331" width="3" height="11" fill="#ff0000"/>
<rect x="847" y="312" width="1" height="37" fill="#ff0000"/>
<rect x="846" y="313" width="3" height="19" fill="#ff0000"/>
<rect x="851" y="305" width="1" height="11" fill="#ff0000"/>
<rect x="850" y="308" width="3" height="7" fill="#ff0000"/>
<rect x="855" y="266" width="1" height="77" fill="#ff0000"/>
<rect x="854" y="282" width="3" height="28" fill="#ff0000"/>
<rect x="859" y="269" width="1" height="37" fill="#ff0000"/>
<rect x="858" y="272" width="3" height="12" fill="#ff0000"/>
<rect x="863" y="270" width="1" height="12" fill="#00ff00"/>
<rect x="862" y="272" width="3" height="6" fill="#00ff00"/>
<rect x="867" y="267" width="1" height="24" fill="#00ff00"/>
<rect x="866" y="275" width="3" height="10" fill="#00ff00"/>
<rect x="871" y="281" width="1" height="73" fill="#00ff00"/>
<rect x="870" y="283" width="3" height="66" fill="#00ff00"/>
<rect x="875" y="331" width="1" height="25" fill="#ff0000"/>
<rect x="874" y="346" width="3" height="3" fill="#ff0000"/>
<rect x="879" y="332" width="1" height="46" fill="#00ff00"/>
<rect x="878" y="346" width="3" height="23" fill="#00ff00"/>
<rect x="883" y="361" width="1" height="30" fill="#00ff00"/>
<rect x="882" y="368" width="3" height="21" fill="#00ff00"/>
<rect x="887" y="386" width="1" height="7" fill="#00ff00"/>
<rect x="886" y="387" width="3" height="3" fill="#00ff00"/>
<rect x="891" y="370" width="1" height="23" fill="#ff0000"/>
<rect x="890" y="377" width="3" height="13" fill="#ff0000"/>
<rect x="895" y="372" width="1" height="31" fill="#00ff00"/>
<rect x="894" y="377" width="3" height="19" fill="#00ff00"/>
<rect x="899" y="390" width="1" height="17" fill="#00ff00"/>
<rect x="898" y="395" width="3" height="3" fill="#00ff00"/>
<rect x="903" y="392" width="1" height="23" fill="#00ff00"/>
<rect x="902" y="396" width="3" height="8" fill="#00ff00"/>
<rect x="907" y="360" width="1" height="46" fill="#ff0000"/>
<rect x="906" y="364" width="3" height="39" fill="#ff0000"/>
<rect x="911" y="360" width="1" height="12" fill="#ff0000"/>
<rect x="910" y="361" width="3" height="5" fill="#ff0000"/>
<rect x="915" y="340" width="1" height="26" fill="#ff0000"/>
<rect x="914" y="341" width="3" height="25" fill="#ff0000"/>
<rect x="919" y="334" width="1" height="23" fill="#00ff00"/>
<rect x="918" y="341" width="3" height="2" fill="#00ff00"/>
<rect x="923" y="339" width="1" height="26" fill="#00ff00"/>
<rect x="922" y="341" width="3" height="15" fill="#00ff00"/>
<rect x="927" y="328" width="1" height="30" fill="#ff0000"/>
<rect x="926" y="345" width="3" height="9" fill="#ff0000"/>
<rect x="931" y="336" width="1" height="45" fill="#00ff00"/>
<rect x="930" y="345" width="3" height="33" fill="#00ff00"/>
<rect x="935" y="376" width="1" height="13" fill="#00ff00"/>
<rect x="934" y="377" width="3" height="8" fill="#00ff00"/>
<rect x="939" y="379" width="1" height="24" fill="#00ff00"/>
<rect x="938" y="386" width="3" height="11" fill="#00ff00"/>
<rect x="943" y="385" width="1" height="18" fill="#00ff00"/>
<rect x="942" y="394" width="3" height="2" fill="#00ff00"/>
<rect x="947" y="385" width="1" height="27" fill="#00ff00"/>
<rect x="946" y="395" width="3" height="12" fill="#00ff00"/>
<rect x="951" y="390" width="1" height="21" fill="#ff0000"/>
<rect x="950" y="399" width="3" height="8" fill="#ff0000"/>
<rect x="955" y="381" width="1" height="40" fill="#ff0000"/>
<rect x="954" y="382" width="3" height="19" fill="#ff0000"/>
<rect x="959" y="381" width="1" height="12" fill="#00ff00"/>
<rect x="958" y="382" width="3" height="11" fill="#00ff00"/>
<rect x="963" y="344" width="1" height="59" fill="#ff0000"/>
<rect x="962" y="349" width="3" height="54" fill="#ff0000"/>
<rect x="967" y="334" width="1" height="20" fill="#ff0000"/>
<rect x="966" y="340" width="3" height="10" fill="#ff0000"/>
<rect x="971" y="313" width="1" height="40" fill="#ff0000"/>
<rect x="970" y="335" width="3" height="7" fill="#ff0000"/>
<rect x="975" y="321" width="1" height="29" fill="#ff0000"/>
<rect x="974" y="331" width="3" height="6" fill="#ff0000"/>
<rect x="979" y="318" width="1" height="57" fill="#00ff00"/>
<rect x="978" y="331" width="3" height="41" fill="#00ff00"/>
<rect x="983" y="360" width="1" height="8" fill="#ff0000"/>
<rect x="982" y="363" width="3" height="4" fill="#ff0000"/>
<rect x="987" y="343" width="1" height="21" fill="#ff0000"/>
<rect x="986" y="349" width="3" height="12" fill="#ff0000"/>
<rect x="991" y="333" width="1" height="30" fill="#ff0000"/>
<rect x="990" y="334" width="3" height="16" fill="#ff0000"/>
<rect x="995" y="327" width="1" height="23" fill="#00ff00"/>
<rect x="994" y="334" width="3" height="6" fill="#00ff00"/>
<rect x="999" y="283" width="1" height="56" fill="#ff0000"/>
<rect x="998" y="312" width="3" height="27" fill="#ff0000"/>
<rect x="1003" y="248" width="1" height="75" fill="#ff0000"/>
<rect x="1002" y="297" width="3" height="17" fill="#ff0000"/>
<rect x="1007" y="295" width="1" height="22" fill="#00ff00"/>
<rect x="1006" y="298" width="3" height="15" fill="#00ff00"/>
<rect x="1011" y="280" width="1" height="30" fill="#ff0000"/>
<rect x="1010" y="297" width="3" height="8" fill="#ff0000"/>
<rect x="1015" y="267" width="1" height="35" fill="#ff0000"/>
<rect x="1014" y="282" width="3" height="17" fill="#ff0000"/>
<rect x="1019" y="281" width="1" height="38" fill="#00ff00"/>
<rect x="1018" y="282" width="3" height="26" fill="#00ff00"/>
<rect x="1023" y="291" width="1" height="30" fill="#00ff00"/>
<rect x="1022" y="304" width="3" height="11" fill="#00ff00"/>
<rect x="1027" y="302" width="1" height="40" fill="#00ff00"/>
<rect x="1026" y="312" width="3" height="26" fill="#00ff00"/>
<rect x="1031" y="336" width="1" height="18" fill="#00ff00"/>
<rect x="1030" y="336" width="3" height="16" fill="#00ff00"/>
<rect x="1035" y="329" width="1" height="22" fill="#ff0000"/>
<rect x="1034" y="336" width="3" height="8" fill="#ff0000"/>
<rect x="1039" y="330" width="1" height="22" fill="#ff0000"/>
<rect x="1038" y="333" width="3" height="5" fill="#ff0000"/>
<rect x="1043" y="330" width="1" height="13" fill="#00ff00"/>
<rect x="1042" y="334" width="3" height="6" fill="#00ff00"/>
<rect x="1047" y="326" width="1" height="16" fill="#ff0000"/>
<rect x="1046" y="326" width="3" height="9" fill="#ff0000"/>
<rect x="1051" y="264" width="1" height="68" fill="#ff0000"/>
<rect x="1050" y="276" width="3" height="52" fill="#ff0000"/>
<rect x="1055" y="260" width="1" height="22" fill="#ff0000"/>
<rect x="1054" y="260" width="3" height="17" fill="#ff0000"/>
<rect x="1059" y="239" width="1" height="29" fill="#ff0000"/>
<rect x="1058" y="245" width="3" height="22" fill="#ff0000"/>
<rect x="1063" y="217" width="1" height="35" fill="#ff0000"/>
<rect x="1062" y="229" width="3" height="20" fill="#ff0000"/>
<rect x="1067" y="223" width="1" height="15" fill="#00ff00"/>
<rect x="1066" y="228" width="3" height="8" fill="#00ff00"/>
<rect x="1071" y="228" width="1" height="45" fill="#00ff00"/>
<rect x="1070" y="236" width="3" height="12" fill="#00ff00"/>
<rect x="1075" y="246" width="1" height="62" fill="#00ff00"/>
<rect x="1074" y="247" width="3" height="30" fill="#00ff00"/>
<rect x="1079" y="263" width="1" height="16" fill="#ff0000"/>
<rect x="1078" y="274" width="3" height="3" fill="#ff0000"/>
<rect x="1083" y="243" width="1" height="40" fill="#ff0000"/>
<rect x="1082" y="256" width="3" height="25" fill="#ff0000"/>
<rect x="1087" y="249" width="1" height="51" fill="#00ff00"/>
<rect x="1086" y="256" width="3" height="39" fill="#00ff00"/>
<rect x="1091" y="272" width="1" height="47" fill="#00ff00"/>
<rect x="1090" y="293" width="3" height="18" fill="#00ff00"/>
<rect x="1095" y="305" width="1" height="28" fill="#00ff00"/>
<rect x="1094" y="310" width="3" height="13" fill="#00ff00"/>
<rect x="1099" y="312" width="1" height="27" fill="#ff0000"/>
<rect x="1098" y="316" width="3" height="10" fill="#ff0000"/>
<rect x="1103" y="303" width="1" height="16" fill="#ff0000"/>
<rect x="1102" y="307" width="3" height="10" fill="#ff0000"/>
<rect x="1107" y="296" width="1" height="21" fill="#ff0000"/>
<rect x="1106" y="300" width="3" height="12" fill="#ff0000"/>
<rect x="1111" y="289" width="1" height="34" fill="#00ff00"/>
<rect x="1110" y="300" width="3" height="10" fill="#00ff00"/>
<rect x="1115" y="276" width="1" height="37" fill="#ff0000"/>
<rect x="1114" y="285" width="3" height="24" fill="#ff0000"/>
<rect x="1119" y="269" width="1" height="27" fill="#00ff00"/>
<rect x="1118" y="285" width="3" height="10" fill="#00ff00"/>
<rect x="1123" y="291" width="1" height="47" fill="#00ff00"/>
<rect x="1122" y="293" width="3" height="40" fill="#00ff00"/>
<rect x="1127" y="329" width="1" height="8" fill="#00ff00"/>
<rect x="1126" y="330" width="3" height="3" fill="#00ff00"/>
<rect x="1131" y="325" width="1" height="21" fill="#00ff00"/>
<rect x="1130" y="333" width="3" height="8" fill="#00ff00"/>
<rect x="1135" y="312" width="1" height="31" fill="#ff0000"/>
<rect x="1134" y="326" width="3" height="15" fill="#ff0000"/>
<rect x="1139" y="326" width="1" height="25" fill="#00ff00"/>
<rect x="1138" y="327" width="3" height="20" fill="#00ff00"/>
<rect x="1143" y="319" width="1" height="55" fill="#00ff00"/>
<rect x="1142" y="345" width="3" height="25" fill="#00ff00"/>
<rect x="1147" y="356" width="1" height="32" fill="#00ff00"/>
<rect x="1146" y="368" width="3" height="19" fill="#00ff00"/>
<rect x="1151" y="378" width="1" height="12" fill="#ff0000"/>
<rect x="1150" y="381" width="3" height="5" fill="#ff0000"/>
<rect x="1155" y="377" width="1" height="20" fill="#00ff00"/>
<rect x="1154" y="381" width="3" height="14" fill="#00ff00"/>
<rect x="1159" y="392" width="1" height="16" fill="#00ff00"/>
<rect x="1158" y="394" width="3" height="12" fill="#00ff00"/>
<rect x="1163" y="382" width="1" height="30" fill="#00ff00"/>
<rect x="1162" y="403" width="3" height="3" fill="#00ff00"/>
<rect x="1167" y="376" width="1" height="33" fill="#ff0000"/>
<rect x="1166" y="376" width="3" height="30" fill="#ff0000"/>
<rect x="1171" y="338" width="1" height="55" fill="#ff0000"/>
<rect x="1170" y="340" width="3" height="38" fill="#ff0000"/>
<rect x="1175" y="333" width="1" height="13" fill="#ff0000"/>
<rect x="1174" y="334" width="3" height="9" fill="#ff0000"/>
<rect x="1179" y="333" width="1" height="46" fill="#00ff00"/>
<rect x="1178" y="338" width="3" height="24" fill="#00ff00"/>
<rect x="1183" y="352" width="1" height="28" fill="#00ff00"/>
<rect x="1182" y="359" width="3" height="16" fill="#00ff00"/>
<rect x="1187" y="367" width="1" height="42" fill="#00ff00"/>
<rect x="1186" y="373" width="3" height="31" fill="#00ff00"/>
<rect x="1191" y="393" width="1" height="41" fill="#00ff00"/>
<rect x="1190" y="403" width="3" height="20" fill="#00ff00"/>
<rect x="1195" y="416" width="1" height="31" fill="#00ff00"/>
<rect x="1194" y="422" width="3" height="13" fill="#00ff00"/>
<rect x="1199" y="431" width="1" height="20" fill="#00ff00"/>
<rect x="1198" y="433" width="3" height="15" fill="#00ff00"/>
<rect x="1203" y="437" width="1" height="32" fill="#00ff00"/>
<rect x="1202" y="448" width="3" height="16" fill="#00ff00"/>
<rect x="1207" y="462" width="1" height="29" fill="#00ff00"/>
<rect x="1206" y="463" width="3" height="9" fill="#00ff00"/>
<rect x="1211" y="463" width="1" height="32" fill="#00ff00"/>
<rect x="1210" y="470" width="3" height="19" fill="#00ff00"/>
<rect x="1215" y="484" width="1" height="52" fill="#00ff00"/>
<rect x="1214" y="485" width="3" height="40" fill="#00ff00"/>
<rect x="1219" y="513" width="1" height="28" fill="#00ff00"/>
<rect x="1218" y="523" width="3" height="4" fill="#00ff00"/>
<rect x="1223" y="524" width="1" height="13" fill="#00ff00"/>
<rect x="1222" y="525" width="3" height="7" fill="#00ff00"/>
<rect x="1227" y="522" width="1" height="18" fill="#00ff00"/>
<rect x="1226" y="531" width="3" height="9" fill="#00ff00"/>
<rect x="1231" y="529" width="1" height="45" fill="#00ff00"/>
<rect x="1230" y="538" width="3" height="7" fill="#00ff00"/>
<rect x="1235" y="542" width="1" height="35" fill="#00ff00"/>
<rect x="1234" y="543" width="3" height="27" fill="#00ff00"/>
<rect x="1239" y="544" width="1" height="36" fill="#ff0000"/>
<rect x="1238" y="561" width="3" height="9" fill="#ff0000"/>
<rect x="1243" y="511" width="1" height="65" fill="#ff0000"/>
<rect x="1242" y="519" width="3" height="41" fill="#ff0000"/>
<rect x="1247" y="511" width="1" height="14" fill="#ff0000"/>
<rect x="1246" y="515" width="3" height="6" fill="#ff0000"/>
<rect x="1251" y="515" width="1" height="44" fill="#ff0000"/>
<rect x="1250" y="517" width="3" height="23" fill="#ff0000"/>
<rect x="1255" y="504" width="1" height="35" fill="#ff0000"/>
<rect x="1254" y="510" width="3" height="10" fill="#ff0000"/>
<rect x="1259" y="476" width="1" height="44" fill="#ff0000"/>
<rect x="1258" y="509" width="3" height="4" fill="#ff0000"/>
<rect x="1263" y="399" width="1" height="114" fill="#ff0000"/>
<rect x="1262" y="416" width="3" height="95" fill="#ff0000"/>
<rect x="1267" y="362" width="1" height="83" fill="#ff0000"/>
<rect x="1266" y="416" width="3" height="2" fill="#ff0000"/>
<rect x="1271" y="378" width="1" height="44" fill="#ff0000"/>
<rect x="1270" y="381" width="3" height="36" fill="#ff0000"/>
<rect x="1275" y="259" width="1" height="119" fill="#ff0000"/>
<rect x="1274" y="301" width="3" height="63" fill="#ff0000"/>
<rect x="1279" y="259" width="1" height="53" fill="#00ff00"/>
<rect x="1278" y="301" width="3" height="4" fill="#00ff00"/>
</g>
<path d="M426 105.5h3M423 106.5h3M429 106.5h2M19 110.5h3M22 111.5h2M96 149.5h2M369 155.5h3M367 156.5h2M178 172.5h2M482 200.5h2M54 213.5h2M270 225.5h2M267 226.5h3M466 229.5h2M506 230.5h2M503 231.5h3M130 235.5h3M127 236.5h3M133 236.5h2M141 236.5h2M577 236.5h3M135 237.5h6M574 237.5h3M571 238.5h3M239 244.5h3M1072 244.5h2M242 245.5h2M249 254.5h2M247 255.5h2M296 276.5h2M221 277.5h2M302 277.5h2M219 278.5h2M299 278.5h3M332 281.5h2M866 286.5h2M823 290.5h2M825 291.5h2M527 295.5h2M529 296.5h2M534 296.5h2M531 297.5h3M536 297.5h2M1018 299.5h2M1015 300.5h3M1020 300.5h2M543 308.5h2M545 309.5h2M1103 310.5h3M1106 311.5h6M627 312.5h6M633 313.5h2M624 314.5h2M550 315.5h2M607 329.5h2M609 330.5h2M614 330.5h2M611 331.5h3M843 331.5h5M1045 338.5h2M1043 339.5h2M980 346.5h2M983 348.5h2M985 349.5h2M928 350.5h2M987 350.5h7M994 351.5h2M703 360.5h3M694 364.5h2M691 365.5h3M698 368.5h2M677 373.5h2M675 374.5h2M717 375.5h3M715 376.5h2M908 386.5h2M900 390.5h2M1165 393.5h2M1163 394.5h2M958 395.5h2M951 396.5h7M771 423.5h6M777 424.5h2M747 457.5h2M749 458.5h2M753 458.5h2M751 459.5h2M1240 548.5h2M3.5 135v1M4.5 133v2M5.5 132v1M6.5 130v2M7.5 129v1M8.5 127v2M9.5 125v2M10.5 123v2M11.5 122v1M12.5 120v2M13.5 119v1M14.5 117v2M15.5 116v1M16.5 114v2M17.5 113v1M18.5 111v2M24.5 112v2M25.5 114v1M26.5 115v2M27.5 117v2M28.5 119v3M29.5 122v3M30.5 125v3M31.5 128v3M32.5 131v3M33.5 134v2M34.5 136v3M35.5 139v5M36.5 144v6M37.5 150v6M38.5 156v6M39.5 162v5M40.5 167v5M41.5 172v4M42.5 176v5M43.5 181v4M44.5 185v3M45.5 188v3M46.5 191v3M47.5 194v3M48.5 197v3M49.5 200v4M50.5 204v3M51.5 207v2M52.5 209v2M53.5 211v1M54.5 212v1M55.5 214v1M56.5 210v3M57.5 207v3M58.5 204v3M59.5 201v3M60.5 198v3M61.5 196v2M62.5 193v3M63.5 190v3M64.5 187v3M65.5 183v4M66.5 180v3M67.5 177v3M68.5 173v4M69.5 170v3M70.5 166v4M71.5 163v3M72.5 161v2M73.5 158v3M74.5 156v2M75.5 154v2M76.5 152v2M77.5 151v1M78.5 149v2M79.5 148v1M80.5 146v2M81.5 144v2M82.5 142v2M83.5 141v1M84.5 139v2M85.5 138v1M86.5 136v2M87.5 135v1M88.5 136v2M89.5 138v1M90.5 139v2M91.5 141v1M92.5 142v2M93.5 144v2M94.5 146v2M95.5 148v1M98.5 150v1M99.5 151v2M100.5 153v3M101.5 156v3M102.5 159v3M103.5 162v4M104.5 166v4M105.5 170v4M106.5 174v4M107.5 178v3M108.5 181v2M109.5 183v2M110.5 185v2M111.5 187v2M112.5 189v3M113.5 192v2M114.5 194v3M115.5 197v4M116.5 201v4M117.5 205v4M118.5 209v4M119.5 213v4M120.5 217v3M121.5 220v2M122.5 222v3M123.5 225v3M124.5 228v2M125.5 230v3M126.5 233v2M127.5 235v1M143.5 234v2M144.5 231v3M145.5 228v3M146.5 225v3M147.5 223v2M148.5 222v1M149.5 220v2M150.5 219v1M151.5 217v2M152.5 215v2M153.5 213v2M154.5 211v2M155.5 210v1M156.5 208v2M157.5 206v2M158.5 204v2M159.5 202v2M160.5 198v4M161.5 195v3M162.5 191v4M163.5 189v2M164.5 188v1M165.5 186v2M166.5 185v1M167.5 184v1M168.5 183v1M169.5 182v1M170.5 181v1M171.5 180v1M172.5 179v1M173.5 178v1M174.5 177v1M175.5 176v1M176.5 175v1M177.5 173v2M179.5 171v1M180.5 173v2M181.5 175v3M182.5 178v2M183.5 180v3M184.5 183v2M185.5 185v3M186.5 188v2M187.5 190v3M188.5 193v2M189.5 195v3M190.5 198v2M191.5 200v2M192.5 202v1M193.5 203v2M194.5 205v1M195.5 206v2M196.5 208v3M197.5 211v4M198.5 215v3M199.5 218v3M200.5 221v2M201.5 223v2M202.5 225v2M203.5 227v2M204.5 229v4M205.5 233v3M206.5 236v4M207.5 240v3M208.5 243v3M209.5 246v4M210.5 250v3M211.5 253v4M212.5 257v4M213.5 261v4M214.5 265v4M215.5 269v3M216.5 272v2M217.5 274v2M218.5 276v2M223.5 274v3M224.5 270v4M225.5 266v4M226.5 262v4M227.5 259v3M228.5 258v1M229.5 256v2M230.5 255v1M231.5 254v1M232.5 252v2M233.5 251v1M234.5 249v2M235.5 248v1M236.5 247v1M237.5 246v1M238.5 245v1M243.5 246v1M244.5 247v2M245.5 249v3M246.5 252v2M247.5 254v1M251.5 253v1M252.5 251v2M253.5 250v1M254.5 248v2M255.5 246v2M256.5 244v2M257.5 242v2M258.5 240v2M259.5 239v1M260.5 238v1M261.5 236v2M262.5 235v1M263.5 233v2M264.5 231v2M265.5 229v2M266.5 227v2M272.5 226v1M273.5 227v1M274.5 228v1M275.5 229v2M276.5 231v2M277.5 233v3M278.5 236v2M279.5 238v3M280.5 241v2M281.5 243v3M282.5 246v2M283.5 248v3M284.5 251v3M285.5 254v3M286.5 257v3M287.5 260v2M288.5 262v2M289.5 264v1M290.5 265v2M291.5 267v2M292.5 269v2M293.5 271v2M294.5 273v2M295.5 275v1M298.5 277v1M304.5 275v2M305.5 274v1M306.5 272v2M307.5 271v1M308.5 269v2M309.5 268v1M310.5 266v2M311.5 265v1M312.5 264v1M313.5 262v2M314.5 261v1M315.5 260v1M316.5 259v1M317.5 258v1M318.5 257v1M319.5 256v1M320.5 257v2M321.5 259v1M322.5 260v2M323.5 262v2M324.5 264v2M325.5 266v2M326.5 268v2M327.5 270v3M328.5 273v2M329.5 275v2M330.5 277v2M331.5 279v2M334.5 282v1M335.5 283v1M336.5 282v1M337.5 280v2M338.5 279v1M339.5 277v2M340.5 273v4M341.5 269v4M342.5 265v4M343.5 261v4M344.5 257v4M345.5 253v4M346.5 249v4M347.5 245v4M348.5 239v6M349.5 233v6M350.5 227v6M351.5 221v6M352.5 215v6M353.5 209v6M354.5 203v6M355.5 198v5M356.5 193v5M357.5 187v6M358.5 182v5M359.5 178v4M360.5 175v3M361.5 173v2M362.5 170v3M363.5 167v3M364.5 164v3M365.5 161v3M366.5 158v3M367.5 157v1M371.5 154v1M372.5 156v2M373.5 158v2M374.5 160v2M375.5 162v3M376.5 165v5M377.5 170v4M378.5 174v5M379.5 179v5M380.5 184v4M381.5 188v4M382.5 192v4M383.5 196v3M384.5 199v3M385.5 202v4M386.5 206v3M387.5 209v4M388.5 213v4M389.5 217v5M390.5 222v4M391.5 226v4M392.5 230v2M393.5 232v2M394.5 234v2M395.5 236v2M396.5 234v2M397.5 231v3M398.5 229v2M399.5 225v4M400.5 220v5M401.5 216v4M402.5 211v5M403.5 206v5M404.5 201v5M405.5 195v6M406.5 190v5M407.5 184v6M408.5 176v8M409.5 168v8M410.5 160v8M411.5 153v7M412.5 146v7M413.5 140v6M414.5 133v7M415.5 127v6M416.5 123v4M417.5 119v4M418.5 115v4M419.5 113v2M420.5 111v2M421.5 109v2M422.5 107v2M431.5 107v2M432.5 109v3M433.5 112v3M434.5 115v3M435.5 118v3M436.5 121v4M437.5 125v3M438.5 128v4M439.5 132v3M440.5 135v4M441.5 139v4M442.5 143v4M443.5 147v3M444.5 150v4M445.5 154v4M446.5 158v4M447.5 162v5M448.5 167v6M449.5 173v7M450.5 180v6M451.5 186v5M452.5 191v3M453.5 194v4M454.5 198v3M455.5 201v3M456.5 204v4M457.5 208v3M458.5 211v4M459.5 215v3M460.5 218v2M461.5 220v3M462.5 223v2M463.5 225v2M464.5 227v1M465.5 228v1M467.5 230v1M468.5 227v2M469.5 225v2M470.5 223v2M471.5 222v1M472.5 221v1M473.5 220v1M474.5 219v1M475.5 217v2M476.5 214v3M477.5 212v2M478.5 209v3M479.5 206v3M480.5 204v2M481.5 202v2M482.5 201v1M483.5 199v1M484.5 201v2M485.5 203v2M486.5 205v2M487.5 207v1M488.5 208v1M489.5 209v2M490.5 211v1M491.5 212v1M492.5 213v1M493.5 214v1M494.5 215v1M495.5 216v2M496.5 218v2M497.5 220v2M498.5 222v2M499.5 224v1M500.5 225v2M501.5 227v2M502.5 229v2M507.5 231v1M508.5 232v3M509.5 235v3M510.5 238v3M511.5 241v3M512.5 244v4M513.5 248v3M514.5 251v4M515.5 255v3M516.5 258v2M517.5 260v3M518.5 263v2M519.5 265v3M520.5 268v4M521.5 272v4M522.5 276v4M523.5 280v3M524.5 283v4M525.5 287v3M526.5 290v4M527.5 294v1M538.5 298v1M539.5 299v2M540.5 301v2M541.5 303v2M542.5 305v2M543.5 307v1M547.5 310v1M548.5 311v2M549.5 313v1M550.5 314v1M551.5 316v1M552.5 313v2M553.5 311v2M554.5 309v2M555.5 307v2M556.5 305v2M557.5 302v3M558.5 300v2M559.5 295v5M560.5 288v7M561.5 282v6M562.5 275v7M563.5 270v5M564.5 266v4M565.5 262v4M566.5 258v4M567.5 254v4M568.5 250v4M569.5 245v5M570.5 241v4M571.5 239v2M579.5 235v1M580.5 237v2M581.5 239v2M582.5 241v2M583.5 243v2M584.5 245v2M585.5 247v3M586.5 250v2M587.5 252v4M588.5 256v4M589.5 260v5M590.5 265v4M591.5 269v5M592.5 274v5M593.5 279v4M594.5 283v5M595.5 288v5M596.5 293v4M597.5 297v5M598.5 302v4M599.5 306v4M600.5 310v3M601.5 313v4M602.5 317v3M603.5 320v3M604.5 323v2M605.5 325v2M606.5 327v2M616.5 328v2M617.5 326v2M618.5 324v2M619.5 322v2M620.5 320v2M621.5 318v2M622.5 316v2M623.5 315v1M626.5 313v1M635.5 314v2M636.5 316v3M637.5 319v4M638.5 323v3M639.5 326v5M640.5 331v6M641.5 337v6M642.5 343v6M643.5 349v6M644.5 355v5M645.5 360v6M646.5 366v5M647.5 371v5M648.5 376v5M649.5 381v5M650.5 386v5M651.5 391v5M652.5 396v4M653.5 400v5M654.5 405v4M655.5 409v3M656.5 412v1M657.5 413v2M658.5 415v1M659.5 416v1M660.5 414v2M661.5 412v2M662.5 410v2M663.5 408v2M664.5 405v3M665.5 403v2M666.5 400v3M667.5 397v3M668.5 395v2M669.5 393v2M670.5 391v2M671.5 388v3M672.5 384v4M673.5 380v4M674.5 376v4M675.5 375v1M679.5 372v1M680.5 373v2M681.5 375v1M682.5 376v2M683.5 378v1M684.5 376v2M685.5 375v1M686.5 373v2M687.5 372v1M688.5 370v2M689.5 368v2M690.5 366v2M696.5 365v1M697.5 366v2M699.5 369v1M700.5 366v2M701.5 363v3M702.5 361v2M703.5 359v1M706.5 361v1M707.5 362v1M708.5 363v1M709.5 364v1M710.5 365v1M711.5 366v2M712.5 368v2M713.5 370v3M714.5 373v2M715.5 375v1M719.5 374v1M720.5 376v3M721.5 379v3M722.5 382v3M723.5 385v3M724.5 388v2M725.5 390v2M726.5 392v2M727.5 394v4M728.5 398v4M729.5 402v4M730.5 406v4M731.5 410v3M732.5 413v2M733.5 415v3M734.5 418v2M735.5 420v3M736.5 423v3M737.5 426v3M738.5 429v3M739.5 432v3M740.5 435v2M741.5 437v2M742.5 439v2M743.5 441v3M744.5 444v4M745.5 448v4M746.5 452v4M747.5 456v1M755.5 457v1M756.5 455v2M757.5 453v2M758.5 451v2M759.5 450v1M760.5 448v2M761.5 447v1M762.5 445v2M763.5 443v2M764.5 440v3M765.5 436v4M766.5 433v3M767.5 430v3M768.5 428v2M769.5 426v2M770.5 424v2M779.5 425v1M780.5 423v2M781.5 421v2M782.5 419v2M783.5 417v2M784.5 415v2M785.5 413v2M786.5 411v2M787.5 408v3M788.5 406v2M789.5 404v2M790.5 402v2M791.5 399v3M792.5 396v3M793.5 393v3M794.5 390v3M795.5 387v3M796.5 385v2M797.5 383v2M798.5 381v2M799.5 378v3M800.5 376v2M801.5 374v2M802.5 372v2M803.5 369v3M804.5 365v4M805.5 362v3M806.5 358v4M807.5 354v4M808.5 350v4M809.5 345v5M810.5 341v4M811.5 336v5M812.5 331v5M813.5 325v6M814.5 320v5M815.5 315v5M816.5 311v4M817.5 307v4M818.5 303v4M819.5 299v4M820.5 297v2M821.5 294v3M822.5 292v2M823.5 291v1M827.5 292v2M828.5 294v2M829.5 296v2M830.5 298v2M831.5 300v3M832.5 303v3M833.5 306v4M834.5 310v3M835.5 313v3M836.5 316v2M837.5 318v3M838.5 321v2M839.5 323v2M840.5 325v2M841.5 327v2M842.5 329v2M848.5 330v1M849.5 329v1M850.5 328v1M851.5 326v2M852.5 323v3M853.5 320v3M854.5 317v3M855.5 314v3M856.5 310v4M857.5 307v3M858.5 303v4M859.5 300v3M860.5 297v3M861.5 295v2M862.5 292v3M863.5 290v2M864.5 289v1M865.5 287v2M867.5 285v1M868.5 287v2M869.5 289v2M870.5 291v2M871.5 293v2M872.5 295v3M873.5 298v3M874.5 301v3M875.5 304v4M876.5 308v5M877.5 313v5M878.5 318v5M879.5 323v5M880.5 328v6M881.5 334v5M882.5 339v6M883.5 345v5M884.5 350v5M885.5 355v6M886.5 361v5M887.5 366v3M888.5 369v2M889.5 371v1M890.5 372v2M891.5 374v2M892.5 376v2M893.5 378v2M894.5 380v2M895.5 382v2M896.5 384v2M897.5 386v1M898.5 387v2M899.5 389v1M902.5 391v1M903.5 392v1M904.5 391v1M905.5 389v2M906.5 388v1M907.5 387v1M910.5 385v1M911.5 383v2M912.5 380v3M913.5 378v2M914.5 375v3M915.5 372v3M916.5 369v3M917.5 367v2M918.5 364v3M919.5 361v3M920.5 359v2M921.5 357v2M922.5 355v2M923.5 353v2M924.5 352v1M925.5 351v1M926.5 350v1M927.5 349v1M930.5 351v1M931.5 352v2M932.5 354v2M933.5 356v2M934.5 358v2M935.5 360v3M936.5 363v2M937.5 365v3M938.5 368v2M939.5 370v3M940.5 373v2M941.5 375v2M942.5 377v2M943.5 379v2M944.5 381v3M945.5 384v4M946.5 388v3M947.5 391v2M948.5 393v1M949.5 394v1M950.5 395v1M959.5 394v1M960.5 392v2M961.5 390v2M962.5 388v2M963.5 385v3M964.5 381v4M965.5 378v3M966.5 374v4M967.5 371v3M968.5 368v3M969.5 365v3M970.5 362v3M971.5 359v3M972.5 356v3M973.5 354v2M974.5 351v3M975.5 349v2M976.5 348v1M977.5 347v1M978.5 346v1M979.5 345v1M982.5 347v1M995.5 350v1M996.5 347v3M997.5 344v3M998.5 341v3M999.5 338v3M1000.5 335v3M1001.5 331v4M1002.5 328v3M1003.5 326v2M1004.5 324v2M1005.5 322v2M1006.5 320v2M1007.5 318v2M1008.5 316v2M1009.5 314v2M1010.5 312v2M1011.5 310v2M1012.5 307v3M1013.5 305v2M1014.5 302v3M1015.5 301v1M1022.5 301v1M1023.5 302v1M1024.5 303v1M1025.5 304v2M1026.5 306v1M1027.5 307v2M1028.5 309v3M1029.5 312v2M1030.5 314v3M1031.5 317v3M1032.5 320v3M1033.5 323v2M1034.5 325v3M1035.5 328v2M1036.5 330v1M1037.5 331v2M1038.5 333v1M1039.5 334v1M1040.5 335v1M1041.5 336v2M1042.5 338v1M1047.5 336v2M1048.5 332v4M1049.5 328v4M1050.5 324v4M1051.5 321v3M1052.5 317v4M1053.5 313v4M1054.5 309v4M1055.5 305v4M1056.5 301v4M1057.5 296v5M1058.5 292v4M1059.5 287v5M1060.5 281v6M1061.5 276v5M1062.5 270v6M1063.5 265v5M1064.5 261v4M1065.5 256v5M1066.5 252v4M1067.5 249v3M1068.5 247v2M1069.5 246v1M1070.5 244v2M1071.5 243v1M1074.5 245v1M1075.5 246v1M1076.5 247v2M1077.5 249v1M1078.5 250v2M1079.5 252v1M1080.5 253v2M1081.5 255v1M1082.5 256v2M1083.5 258v2M1084.5 260v3M1085.5 263v2M1086.5 265v3M1087.5 268v3M1088.5 271v3M1089.5 274v4M1090.5 278v3M1091.5 281v3M1092.5 284v2M1093.5 286v2M1094.5 288v2M1095.5 290v3M1096.5 293v2M1097.5 295v2M1098.5 297v2M1099.5 299v3M1100.5 302v2M1101.5 304v3M1102.5 307v2M1103.5 309v1M1111.5 310v1M1112.5 308v2M1113.5 306v2M1114.5 304v2M1115.5 303v1M1116.5 302v1M1117.5 301v1M1118.5 300v1M1119.5 299v1M1120.5 300v1M1121.5 301v2M1122.5 303v1M1123.5 304v1M1124.5 305v2M1125.5 307v1M1126.5 308v2M1127.5 310v1M1128.5 311v2M1129.5 313v2M1130.5 315v2M1131.5 317v2M1132.5 319v2M1133.5 321v2M1134.5 323v2M1135.5 325v2M1136.5 327v2M1137.5 329v3M1138.5 332v2M1139.5 334v3M1140.5 337v2M1141.5 339v2M1142.5 341v2M1143.5 343v2M1144.5 345v2M1145.5 347v3M1146.5 350v2M1147.5 352v3M1148.5 355v2M1149.5 357v2M1150.5 359v2M1151.5 361v3M1152.5 364v3M1153.5 367v4M1154.5 371v3M1155.5 374v3M1156.5 377v3M1157.5 380v3M1158.5 383v3M1159.5 386v2M1160.5 388v2M1161.5 390v2M1162.5 392v2M1167.5 391v2M1168.5 389v2M1169.5 387v2M1170.5 385v2M1171.5 383v2M1172.5 380v3M1173.5 377v3M1174.5 374v3M1175.5 371v3M1176.5 369v2M1177.5 367v2M1178.5 365v2M1179.5 363v2M1180.5 361v2M1181.5 360v1M1182.5 358v2M1183.5 357v1M1184.5 358v1M1185.5 359v2M1186.5 361v1M1187.5 362v3M1188.5 365v4M1189.5 369v4M1190.5 373v4M1191.5 377v5M1192.5 382v5M1193.5 387v5M1194.5 392v5M1195.5 397v5M1196.5 402v4M1197.5 406v4M1198.5 410v4M1199.5 414v5M1200.5 419v4M1201.5 423v5M1202.5 428v4M1203.5 432v4M1204.5 436v3M1205.5 439v4M1206.5 443v3M1207.5 446v3M1208.5 449v4M1209.5 453v3M1210.5 456v4M1211.5 460v4M1212.5 464v4M1213.5 468v5M1214.5 473v4M1215.5 477v4M1216.5 481v4M1217.5 485v4M1218.5 489v4M1219.5 493v3M1220.5 496v4M1221.5 500v3M1222.5 503v4M1223.5 507v3M1224.5 510v4M1225.5 514v3M1226.5 517v4M1227.5 521v3M1228.5 524v3M1229.5 527v2M1230.5 529v3M1231.5 532v3M1232.5 535v2M1233.5 537v2M1234.5 539v2M1235.5 541v2M1236.5 543v2M1237.5 545v2M1238.5 547v2M1239.5 549v1M1242.5 547v1M1243.5 546v1M1244.5 545v1M1245.5 544v1M1246.5 543v1M1247.5 542v1M1248.5 540v2M1249.5 539v1M1250.5 537v2M1251.5 535v2M1252.5 532v3M1253.5 529v3M1254.5 526v3M1255.5 523v3M1256.5 521v2M1257.5 518v3M1258.5 516v2M1259.5 512v4M1260.5 507v5M1261.5 501v6M1262.5 496v5M1263.5 491v5M1264.5 486v5M1265.5 482v4M1266.5 477v5M1267.5 471v6M1268.5 464v7M1269.5 457v7M1270.5 450v7M1271.5 441v9M1272.5 431v10M1273.5 421v10M1274.5 411v10M1275.5 400v11M1276.5 390v10M1277.5 380v10M1278.5 370v10M1279.5 364v6" fill="none" stroke="#ffa500" stroke-width="1" shape-rendering="crispEdges"/>
<path d="M33 133.5h2M30 134.5h3M27 135.5h3M25 136.5h2M23 137.5h2M447 144.5h5M440 151.5h2M5 158.5h2M3 159.5h2M56 159.5h2M107 160.5h2M105 161.5h2M109 161.5h2M60 162.5h2M103 162.5h2M101 163.5h2M99 164.5h2M68 169.5h2M87 170.5h2M89 171.5h2M72 172.5h2M84 172.5h2M420 173.5h2M75 174.5h3M81 174.5h2M78 175.5h3M413 180.5h2M411 181.5h2M195 195.5h5M397 195.5h2M193 196.5h2M394 196.5h3M191 197.5h2M390 197.5h4M183 198.5h3M189 198.5h2M387 198.5h3M186 199.5h3M180 200.5h2M143 214.5h3M146 215.5h4M150 216.5h2M496 216.5h2M152 217.5h2M155 219.5h3M161 219.5h2M500 219.5h2M158 220.5h3M503 221.5h5M516 230.5h2M224 233.5h2M275 239.5h3M273 240.5h2M278 240.5h2M271 241.5h2M268 243.5h2M283 245.5h2M285 246.5h2M235 247.5h2M287 247.5h3M237 248.5h2M290 248.5h3M239 249.5h2M293 249.5h2M241 250.5h2M295 250.5h2M297 251.5h2M244 252.5h2M299 252.5h3M302 253.5h8M310 254.5h2M248 255.5h2M257 255.5h2M312 255.5h2M254 256.5h3M251 257.5h3M316 258.5h2M324 267.5h2M337 272.5h2M583 272.5h6M331 273.5h6M589 273.5h2M580 274.5h2M592 275.5h2M599 275.5h3M1102 275.5h4M597 276.5h2M602 276.5h4M1099 276.5h3M1106 276.5h2M595 277.5h2M606 277.5h2M1097 277.5h2M1094 278.5h3M1090 279.5h4M1087 280.5h3M1112 281.5h2M572 282.5h2M551 289.5h3M564 289.5h2M554 290.5h3M557 291.5h2M561 291.5h2M559 292.5h2M1076 292.5h2M1073 294.5h2M1071 295.5h2M1068 297.5h2M863 304.5h5M861 305.5h2M859 306.5h2M1046 320.5h2M1039 321.5h7M1036 323.5h2M1023 324.5h3M1021 325.5h2M1026 325.5h4M1033 325.5h2M1019 326.5h2M1030 326.5h3M887 328.5h2M1016 328.5h2M840 329.5h2M889 329.5h2M660 358.5h2M1172 360.5h2M664 361.5h2M1175 362.5h2M1177 363.5h2M1180 365.5h2M711 369.5h3M926 369.5h2M714 370.5h3M923 370.5h3M928 370.5h2M974 370.5h3M717 371.5h2M970 371.5h4M977 371.5h2M719 372.5h2M931 372.5h3M966 372.5h4M979 372.5h3M985 372.5h2M721 373.5h2M934 373.5h8M962 373.5h4M982 373.5h3M723 374.5h2M942 374.5h3M958 374.5h4M725 375.5h2M945 375.5h2M954 375.5h4M947 376.5h7M683 384.5h3M698 384.5h2M686 385.5h12M736 389.5h2M764 430.5h2M767 432.5h3M770 433.5h2M775 437.5h3M782 437.5h2M778 438.5h4M1256 521.5h2M7.5 157v1M8.5 156v1M9.5 154v2M10.5 153v1M11.5 152v1M12.5 151v1M13.5 149v2M14.5 148v1M15.5 147v1M16.5 145v2M17.5 144v1M18.5 142v2M19.5 141v1M20.5 140v1M21.5 139v1M22.5 138v1M35.5 132v1M36.5 133v1M37.5 134v2M38.5 136v1M39.5 137v1M40.5 138v1M41.5 139v2M42.5 141v1M43.5 142v1M44.5 143v2M45.5 145v1M46.5 146v2M47.5 148v1M48.5 149v2M49.5 151v1M50.5 152v2M51.5 154v1M52.5 155v1M53.5 156v1M54.5 157v1M55.5 158v1M58.5 160v1M59.5 161v1M62.5 163v1M63.5 164v1M64.5 165v1M65.5 166v1M66.5 167v1M67.5 168v1M70.5 170v1M71.5 171v1M74.5 173v1M83.5 173v1M86.5 171v1M91.5 172v1M92.5 171v1M93.5 170v1M94.5 169v1M95.5 168v1M96.5 167v1M97.5 166v1M98.5 165v1M111.5 162v1M112.5 163v1M113.5 164v2M114.5 166v1M115.5 167v1M116.5 168v1M117.5 169v2M118.5 171v1M119.5 172v1M120.5 173v2M121.5 175v1M122.5 176v2M123.5 178v2M124.5 180v2M125.5 182v2M126.5 184v2M127.5 186v1M128.5 187v1M129.5 188v2M130.5 190v1M131.5 191v2M132.5 193v2M133.5 195v2M134.5 197v2M135.5 199v1M136.5 200v2M137.5 202v2M138.5 204v2M139.5 206v2M140.5 208v2M141.5 210v2M142.5 212v2M154.5 218v1M163.5 218v1M164.5 217v1M165.5 216v1M166.5 215v1M167.5 214v1M168.5 213v1M169.5 212v1M170.5 211v1M171.5 210v1M172.5 209v1M173.5 208v1M174.5 207v1M175.5 206v1M176.5 205v1M177.5 203v2M178.5 202v1M179.5 201v1M182.5 199v1M200.5 196v1M201.5 197v1M202.5 198v1M203.5 199v2M204.5 201v2M205.5 203v2M206.5 205v2M207.5 207v1M208.5 208v2M209.5 210v1M210.5 211v2M211.5 213v1M212.5 214v2M213.5 216v1M214.5 217v2M215.5 219v2M216.5 221v2M217.5 223v2M218.5 225v2M219.5 227v1M220.5 228v1M221.5 229v2M222.5 231v1M223.5 232v1M226.5 234v1M227.5 235v1M228.5 236v2M229.5 238v1M230.5 239v2M231.5 241v1M232.5 242v2M233.5 244v1M234.5 245v2M243.5 251v1M246.5 253v1M247.5 254v1M250.5 256v1M259.5 254v1M260.5 253v1M261.5 251v2M262.5 250v1M263.5 249v1M264.5 248v1M265.5 246v2M266.5 245v1M267.5 244v1M270.5 242v1M280.5 241v1M281.5 242v2M282.5 244v1M314.5 256v1M315.5 257v1M318.5 259v1M319.5 260v1M320.5 261v2M321.5 263v1M322.5 264v2M323.5 266v1M326.5 268v1M327.5 269v1M328.5 270v1M329.5 271v1M330.5 272v1M339.5 271v1M340.5 270v1M341.5 268v2M342.5 267v1M343.5 266v1M344.5 265v1M345.5 264v1M346.5 263v1M347.5 261v2M348.5 259v2M349.5 257v2M350.5 255v2M351.5 253v2M352.5 251v2M353.5 249v2M354.5 247v2M355.5 244v3M356.5 242v2M357.5 240v2M358.5 238v2M359.5 236v2M360.5 234v2M361.5 232v2M362.5 230v2M363.5 229v1M364.5 227v2M365.5 226v1M366.5 224v2M367.5 223v1M368.5 221v2M369.5 220v1M370.5 218v2M371.5 217v1M372.5 215v2M373.5 214v1M374.5 212v2M375.5 211v1M376.5 210v1M377.5 209v1M378.5 208v1M379.5 207v1M380.5 206v1M381.5 205v1M382.5 204v1M383.5 203v1M384.5 202v1M385.5 200v2M386.5 199v1M399.5 194v1M400.5 193v1M401.5 191v2M402.5 190v1M403.5 189v1M404.5 188v1M405.5 187v1M406.5 186v1M407.5 185v1M408.5 184v1M409.5 183v1M410.5 182v1M415.5 179v1M416.5 178v1M417.5 176v2M418.5 175v1M419.5 174v1M422.5 172v1M423.5 171v1M424.5 170v1M425.5 169v1M426.5 168v1M427.5 167v1M428.5 166v1M429.5 164v2M430.5 163v1M431.5 162v1M432.5 161v1M433.5 159v2M434.5 158v1M435.5 157v1M436.5 156v1M437.5 154v2M438.5 153v1M439.5 152v1M442.5 150v1M443.5 149v1M444.5 148v1M445.5 146v2M446.5 145v1M452.5 145v1M453.5 146v1M454.5 147v1M455.5 148v1M456.5 149v2M457.5 151v1M458.5 152v2M459.5 154v2M460.5 156v2M461.5 158v2M462.5 160v2M463.5 162v3M464.5 165v2M465.5 167v2M466.5 169v2M467.5 171v1M468.5 172v2M469.5 174v2M470.5 176v2M471.5 178v1M472.5 179v2M473.5 181v2M474.5 183v2M475.5 185v1M476.5 186v2M477.5 188v1M478.5 189v2M479.5 191v1M480.5 192v2M481.5 194v1M482.5 195v2M483.5 197v2M484.5 199v2M485.5 201v2M486.5 203v2M487.5 205v2M488.5 207v1M489.5 208v2M490.5 210v1M491.5 211v1M492.5 212v1M493.5 213v1M494.5 214v1M495.5 215v1M498.5 217v1M499.5 218v1M502.5 220v1M508.5 222v1M509.5 223v1M510.5 224v1M511.5 225v1M512.5 226v1M513.5 227v1M514.5 228v1M515.5 229v1M518.5 231v1M519.5 232v2M520.5 234v2M521.5 236v2M522.5 238v2M523.5 240v1M524.5 241v2M525.5 243v2M526.5 245v2M527.5 247v1M528.5 248v2M529.5 250v1M530.5 251v2M531.5 253v1M532.5 254v2M533.5 256v2M534.5 258v2M535.5 260v1M536.5 261v2M537.5 263v2M538.5 265v2M539.5 267v2M540.5 269v2M541.5 271v2M542.5 273v2M543.5 275v2M544.5 277v2M545.5 279v1M546.5 280v2M547.5 282v1M548.5 283v2M549.5 285v2M550.5 287v2M563.5 290v1M566.5 288v1M567.5 287v1M568.5 286v1M569.5 285v1M570.5 284v1M571.5 283v1M574.5 281v1M575.5 280v1M576.5 279v1M577.5 277v2M578.5 276v1M579.5 275v1M582.5 273v1M591.5 274v1M594.5 276v1M608.5 278v1M609.5 279v2M610.5 281v1M611.5 282v1M612.5 283v2M613.5 285v1M614.5 286v2M615.5 288v1M616.5 289v1M617.5 290v2M618.5 292v1M619.5 293v1M620.5 294v1M621.5 295v1M622.5 296v1M623.5 297v1M624.5 298v2M625.5 300v1M626.5 301v2M627.5 303v1M628.5 304v2M629.5 306v1M630.5 307v2M631.5 309v1M632.5 310v2M633.5 312v2M634.5 314v2M635.5 316v1M636.5 317v2M637.5 319v2M638.5 321v2M639.5 323v2M640.5 325v2M641.5 327v2M642.5 329v2M643.5 331v2M644.5 333v2M645.5 335v2M646.5 337v2M647.5 339v1M648.5 340v2M649.5 342v2M650.5 344v2M651.5 346v1M652.5 347v2M653.5 349v2M654.5 351v2M655.5 353v1M656.5 354v1M657.5 355v1M658.5 356v1M659.5 357v1M662.5 359v1M663.5 360v1M666.5 362v1M667.5 363v1M668.5 364v1M669.5 365v1M670.5 366v1M671.5 367v1M672.5 368v1M673.5 369v2M674.5 371v1M675.5 372v1M676.5 373v2M677.5 375v1M678.5 376v2M679.5 378v1M680.5 379v2M681.5 381v1M682.5 382v2M700.5 383v1M701.5 381v2M702.5 380v1M703.5 379v1M704.5 378v1M705.5 376v2M706.5 375v1M707.5 374v1M708.5 373v1M709.5 371v2M710.5 370v1M727.5 376v1M728.5 377v2M729.5 379v1M730.5 380v2M731.5 382v1M732.5 383v2M733.5 385v1M734.5 386v2M735.5 388v1M738.5 390v1M739.5 391v2M740.5 393v2M741.5 395v2M742.5 397v2M743.5 399v2M744.5 401v2M745.5 403v3M746.5 406v2M747.5 408v2M748.5 410v2M749.5 412v2M750.5 414v2M751.5 416v1M752.5 417v1M753.5 418v1M754.5 419v1M755.5 420v1M756.5 421v1M757.5 422v1M758.5 423v1M759.5 424v1M760.5 425v1M761.5 426v2M762.5 428v1M763.5 429v1M766.5 431v1M772.5 434v1M773.5 435v1M774.5 436v1M784.5 436v1M785.5 434v2M786.5 433v1M787.5 432v1M788.5 430v2M789.5 429v1M790.5 427v2M791.5 426v1M792.5 425v1M793.5 423v2M794.5 422v1M795.5 421v1M796.5 419v2M797.5 418v1M798.5 416v2M799.5 414v2M800.5 412v2M801.5 410v2M802.5 408v2M803.5 405v3M804.5 402v3M805.5 399v3M806.5 396v3M807.5 393v3M808.5 390v3M809.5 388v2M810.5 385v3M811.5 382v3M812.5 380v2M813.5 377v3M814.5 375v2M815.5 372v3M816.5 370v2M817.5 368v2M818.5 366v2M819.5 363v3M820.5 361v2M821.5 359v2M822.5 357v2M823.5 355v2M824.5 353v2M825.5 351v2M826.5 349v2M827.5 347v2M828.5 345v2M829.5 343v2M830.5 341v2M831.5 340v1M832.5 338v2M833.5 337v1M834.5 335v2M835.5 334v1M836.5 333v1M837.5 332v1M838.5 331v1M839.5 330v1M842.5 328v1M843.5 327v1M844.5 326v1M845.5 325v1M846.5 324v1M847.5 323v1M848.5 322v1M849.5 320v2M850.5 319v1M851.5 318v1M852.5 316v2M853.5 314v2M854.5 312v2M855.5 311v1M856.5 310v1M857.5 308v2M858.5 307v1M868.5 305v1M869.5 306v2M870.5 308v1M871.5 309v1M872.5 310v1M873.5 311v1M874.5 312v1M875.5 313v1M876.5 314v1M877.5 315v2M878.5 317v1M879.5 318v1M880.5 319v2M881.5 321v1M882.5 322v2M883.5 324v1M884.5 325v1M885.5 326v1M886.5 327v1M891.5 330v1M892.5 331v1M893.5 332v1M894.5 333v1M895.5 334v1M896.5 335v1M897.5 336v2M898.5 338v1M899.5 339v1M900.5 340v2M901.5 342v1M902.5 343v2M903.5 345v1M904.5 346v1M905.5 347v1M906.5 348v1M907.5 349v1M908.5 350v2M909.5 352v1M910.5 353v2M911.5 355v1M912.5 356v1M913.5 357v2M914.5 359v1M915.5 360v1M916.5 361v1M917.5 362v1M918.5 363v1M919.5 364v1M920.5 365v2M921.5 367v1M922.5 368v2M930.5 371v1M987.5 371v1M988.5 370v1M989.5 369v1M990.5 368v1M991.5 367v1M992.5 366v1M993.5 365v1M994.5 364v1M995.5 363v1M996.5 361v2M997.5 360v1M998.5 358v2M999.5 357v1M1000.5 355v2M1001.5 353v2M1002.5 351v2M1003.5 350v1M1004.5 348v2M1005.5 346v2M1006.5 344v2M1007.5 343v1M1008.5 341v2M1009.5 340v1M1010.5 338v2M1011.5 336v2M1012.5 334v2M1013.5 332v2M1014.5 330v2M1015.5 329v1M1018.5 327v1M1035.5 324v1M1038.5 322v1M1048.5 319v1M1049.5 318v1M1050.5 317v1M1051.5 316v1M1052.5 315v1M1053.5 314v1M1054.5 313v1M1055.5 312v1M1056.5 311v1M1057.5 310v1M1058.5 309v1M1059.5 308v1M1060.5 306v2M1061.5 305v1M1062.5 303v2M1063.5 302v1M1064.5 301v1M1065.5 300v1M1066.5 299v1M1067.5 298v1M1070.5 296v1M1075.5 293v1M1078.5 291v1M1079.5 290v1M1080.5 288v2M1081.5 287v1M1082.5 285v2M1083.5 284v1M1084.5 283v1M1085.5 282v1M1086.5 281v1M1108.5 277v1M1109.5 278v1M1110.5 279v1M1111.5 280v1M1114.5 282v1M1115.5 283v1M1116.5 284v1M1117.5 285v2M1118.5 287v1M1119.5 288v1M1120.5 289v2M1121.5 291v1M1122.5 292v2M1123.5 294v1M1124.5 295v2M1125.5 297v1M1126.5 298v2M1127.5 300v1M1128.5 301v1M1129.5 302v2M1130.5 304v1M1131.5 305v1M1132.5 306v1M1133.5 307v1M1134.5 308v1M1135.5 309v1M1136.5 310v2M1137.5 312v1M1138.5 313v2M1139.5 315v1M1140.5 316v2M1141.5 318v1M1142.5 319v2M1143.5 321v1M1144.5 322v1M1145.5 323v2M1146.5 325v1M1147.5 326v1M1148.5 327v1M1149.5 328v1M1150.5 329v1M1151.5 330v1M1152.5 331v2M1153.5 333v1M1154.5 334v2M1155.5 336v1M1156.5 337v2M1157.5 339v2M1158.5 341v2M1159.5 343v1M1160.5 344v2M1161.5 346v2M1162.5 348v2M1163.5 350v1M1164.5 351v1M1165.5 352v2M1166.5 354v1M1167.5 355v1M1168.5 356v1M1169.5 357v1M1170.5 358v1M1171.5 359v1M1174.5 361v1M1179.5 364v1M1182.5 366v1M1183.5 367v1M1184.5 368v1M1185.5 369v1M1186.5 370v1M1187.5 371v1M1188.5 372v2M1189.5 374v2M1190.5 376v2M1191.5 378v1M1192.5 379v2M1193.5 381v2M1194.5 383v2M1195.5 385v1M1196.5 386v1M1197.5 387v2M1198.5 389v1M1199.5 390v1M1200.5 391v2M1201.5 393v1M1202.5 394v2M1203.5 396v1M1204.5 397v2M1205.5 399v1M1206.5 400v2M1207.5 402v1M1208.5 403v2M1209.5 405v2M1210.5 407v2M1211.5 409v2M1212.5 411v2M1213.5 413v2M1214.5 415v2M1215.5 417v2M1216.5 419v2M1217.5 421v2M1218.5 423v2M1219.5 425v3M1220.5 428v3M1221.5 431v2M1222.5 433v3M1223.5 436v3M1224.5 439v4M1225.5 443v3M1226.5 446v4M1227.5 450v3M1228.5 453v4M1229.5 457v4M1230.5 461v4M1231.5 465v3M1232.5 468v4M1233.5 472v4M1234.5 476v4M1235.5 480v3M1236.5 483v3M1237.5 486v4M1238.5 490v3M1239.5 493v3M1240.5 496v2M1241.5 498v2M1242.5 500v2M1243.5 502v2M1244.5 504v2M1245.5 506v1M1246.5 507v2M1247.5 509v1M1248.5 510v2M1249.5 512v1M1250.5 513v2M1251.5 515v1M1252.5 516v1M1253.5 517v2M1254.5 519v1M1255.5 520v1M1258.5 522v1M1259.5 523v1M1260.5 522v1M1261.5 521v1M1262.5 520v1M1263.5 519v1M1264.5 518v1M1265.5 516v2M1266.5 515v1M1267.5 513v2M1268.5 511v2M1269.5 508v3M1270.5 506v2M1271.5 502v4M1272.5 498v4M1273.5 494v4M1274.5 490v4M1275.5 486v4M1276.5 482v4M1277.5 478v4M1278.5 474v4M1279.5 472v2" fill="none" stroke="#ff0000" stroke-width="1" shape-rendering="crispEdges"/>
<path d="M10 119.5h8M3 120.5h7M18 120.5h4M22 121.5h2M24 122.5h2M27 124.5h2M29 125.5h2M32 127.5h2M55 152.5h2M57 153.5h2M98 153.5h4M87 154.5h11M102 154.5h3M60 155.5h2M85 155.5h2M105 155.5h2M83 156.5h2M107 156.5h2M81 157.5h2M109 157.5h2M64 158.5h2M78 158.5h3M74 159.5h4M112 159.5h2M67 160.5h7M128 175.5h2M454 175.5h16M451 176.5h3M470 176.5h3M449 177.5h2M473 177.5h2M447 178.5h2M475 178.5h2M477 179.5h2M479 180.5h3M482 181.5h2M484 182.5h2M440 184.5h2M487 184.5h2M489 185.5h2M491 186.5h3M502 186.5h4M174 187.5h7M436 187.5h2M494 187.5h8M506 187.5h4M171 188.5h3M181 188.5h2M510 188.5h3M169 189.5h2M513 189.5h2M143 190.5h3M166 190.5h3M184 190.5h2M432 190.5h2M146 191.5h4M163 191.5h3M516 191.5h2M150 192.5h4M161 192.5h2M187 192.5h2M154 193.5h7M189 193.5h2M191 194.5h2M193 195.5h2M196 197.5h2M212 214.5h2M219 220.5h2M221 221.5h2M223 222.5h6M229 223.5h2M231 224.5h3M234 225.5h12M262 225.5h4M246 226.5h4M254 226.5h8M266 226.5h3M250 227.5h4M269 227.5h2M271 228.5h3M274 229.5h2M276 230.5h2M280 233.5h2M374 235.5h8M396 235.5h2M371 236.5h3M382 236.5h14M369 237.5h2M367 238.5h2M288 240.5h2M360 244.5h2M296 247.5h2M552 247.5h2M299 249.5h2M301 250.5h2M556 250.5h2M303 251.5h3M352 251.5h2M306 252.5h4M559 252.5h3M310 253.5h3M562 253.5h3M313 254.5h2M348 254.5h2M565 254.5h2M315 255.5h3M342 255.5h6M567 255.5h15M318 256.5h4M338 256.5h4M582 256.5h2M322 257.5h16M584 257.5h2M604 277.5h2M608 280.5h2M615 286.5h2M617 287.5h2M619 288.5h2M621 289.5h2M624 291.5h2M627 293.5h3M630 294.5h3M633 295.5h2M635 296.5h2M1115 296.5h7M637 297.5h2M1113 297.5h2M1122 297.5h7M1110 298.5h3M1129 298.5h2M1106 299.5h4M1131 299.5h3M1103 300.5h3M1134 300.5h3M1101 301.5h2M1137 301.5h2M1099 302.5h2M1139 302.5h3M1097 303.5h2M1142 303.5h3M1090 304.5h7M1145 304.5h2M1087 305.5h3M1147 305.5h3M1085 306.5h2M1150 306.5h3M1083 307.5h2M1153 307.5h2M1155 308.5h2M1080 309.5h2M1157 309.5h2M1160 311.5h2M1163 313.5h3M1166 314.5h3M1169 315.5h2M656 316.5h2M1072 316.5h2M1172 317.5h2M659 318.5h6M665 319.5h2M667 320.5h2M669 321.5h2M918 334.5h8M914 335.5h4M926 335.5h2M898 336.5h4M906 336.5h8M928 336.5h2M895 337.5h3M902 337.5h4M893 338.5h2M890 339.5h3M886 340.5h4M882 341.5h4M879 342.5h3M877 343.5h2M875 344.5h2M692 345.5h2M1048 345.5h2M872 346.5h2M1046 346.5h2M940 347.5h2M1038 347.5h8M1026 348.5h12M1023 349.5h3M944 350.5h2M1020 351.5h2M947 352.5h2M949 353.5h2M951 354.5h2M1016 354.5h2M953 355.5h2M703 356.5h2M955 356.5h3M705 357.5h2M958 357.5h4M707 358.5h3M962 358.5h4M710 359.5h2M966 359.5h4M712 360.5h2M970 360.5h4M1009 360.5h2M974 361.5h2M1007 361.5h2M715 362.5h2M717 363.5h2M1004 363.5h2M719 364.5h2M721 365.5h2M979 365.5h2M981 366.5h2M1000 366.5h2M724 367.5h2M984 368.5h2M997 368.5h2M990 369.5h7M987 370.5h3M844 381.5h2M840 384.5h2M837 386.5h2M835 387.5h2M833 388.5h2M830 389.5h3M827 390.5h3M825 391.5h2M823 392.5h2M821 393.5h2M819 394.5h2M816 396.5h2M812 399.5h2M755 401.5h3M809 401.5h2M758 402.5h4M770 402.5h4M806 402.5h3M762 403.5h8M774 403.5h4M803 403.5h3M778 404.5h16M801 404.5h2M794 405.5h7M1276 452.5h2M1259 454.5h3M1262 455.5h4M1272 455.5h2M1266 456.5h6M26.5 123v1M31.5 126v1M34.5 128v1M35.5 129v1M36.5 130v1M37.5 131v2M38.5 133v1M39.5 134v1M40.5 135v1M41.5 136v1M42.5 137v1M43.5 138v1M44.5 139v1M45.5 140v2M46.5 142v1M47.5 143v1M48.5 144v1M49.5 145v2M50.5 147v1M51.5 148v1M52.5 149v1M53.5 150v1M54.5 151v1M59.5 154v1M62.5 156v1M63.5 157v1M66.5 159v1M111.5 158v1M114.5 160v1M115.5 161v1M116.5 162v1M117.5 163v1M118.5 164v1M119.5 165v1M120.5 166v1M121.5 167v1M122.5 168v1M123.5 169v1M124.5 170v1M125.5 171v2M126.5 173v1M127.5 174v1M130.5 176v1M131.5 177v1M132.5 178v1M133.5 179v2M134.5 181v1M135.5 182v1M136.5 183v1M137.5 184v1M138.5 185v1M139.5 186v1M140.5 187v1M141.5 188v1M142.5 189v1M183.5 189v1M186.5 191v1M195.5 196v1M198.5 198v1M199.5 199v1M200.5 200v1M201.5 201v2M202.5 203v1M203.5 204v1M204.5 205v1M205.5 206v2M206.5 208v1M207.5 209v1M208.5 210v1M209.5 211v1M210.5 212v1M211.5 213v1M214.5 215v1M215.5 216v1M216.5 217v1M217.5 218v1M218.5 219v1M278.5 231v1M279.5 232v1M282.5 234v1M283.5 235v1M284.5 236v1M285.5 237v1M286.5 238v1M287.5 239v1M290.5 241v1M291.5 242v1M292.5 243v1M293.5 244v1M294.5 245v1M295.5 246v1M298.5 248v1M350.5 253v1M351.5 252v1M354.5 250v1M355.5 249v1M356.5 248v1M357.5 247v1M358.5 246v1M359.5 245v1M362.5 243v1M363.5 242v1M364.5 241v1M365.5 240v1M366.5 239v1M398.5 234v1M399.5 233v1M400.5 232v1M401.5 231v1M402.5 230v1M403.5 229v1M404.5 227v2M405.5 226v1M406.5 224v2M407.5 223v1M408.5 222v1M409.5 220v2M410.5 219v1M411.5 218v1M412.5 216v2M413.5 215v1M414.5 213v2M415.5 212v1M416.5 210v2M417.5 209v1M418.5 207v2M419.5 206v1M420.5 204v2M421.5 203v1M422.5 201v2M423.5 200v1M424.5 199v1M425.5 198v1M426.5 197v1M427.5 196v1M428.5 195v1M429.5 193v2M430.5 192v1M431.5 191v1M434.5 189v1M435.5 188v1M438.5 186v1M439.5 185v1M442.5 183v1M443.5 182v1M444.5 181v1M445.5 180v1M446.5 179v1M486.5 183v1M515.5 190v1M518.5 192v1M519.5 193v1M520.5 194v2M521.5 196v1M522.5 197v2M523.5 199v1M524.5 200v2M525.5 202v1M526.5 203v2M527.5 205v1M528.5 206v2M529.5 208v1M530.5 209v2M531.5 211v1M532.5 212v2M533.5 214v2M534.5 216v2M535.5 218v1M536.5 219v2M537.5 221v1M538.5 222v2M539.5 224v2M540.5 226v2M541.5 228v2M542.5 230v2M543.5 232v1M544.5 233v2M545.5 235v2M546.5 237v2M547.5 239v1M548.5 240v2M549.5 242v2M550.5 244v2M551.5 246v1M554.5 248v1M555.5 249v1M558.5 251v1M586.5 258v1M587.5 259v1M588.5 260v1M589.5 261v1M590.5 262v1M591.5 263v1M592.5 264v1M593.5 265v1M594.5 266v1M595.5 267v1M596.5 268v1M597.5 269v2M598.5 271v1M599.5 272v1M600.5 273v1M601.5 274v1M602.5 275v1M603.5 276v1M606.5 278v1M607.5 279v1M610.5 281v1M611.5 282v1M612.5 283v1M613.5 284v1M614.5 285v1M623.5 290v1M626.5 292v1M639.5 298v1M640.5 299v1M641.5 300v1M642.5 301v1M643.5 302v1M644.5 303v1M645.5 304v1M646.5 305v1M647.5 306v1M648.5 307v1M649.5 308v1M650.5 309v1M651.5 310v1M652.5 311v1M653.5 312v2M654.5 314v1M655.5 315v1M658.5 317v1M671.5 322v1M672.5 323v1M673.5 324v1M674.5 325v1M675.5 326v1M676.5 327v1M677.5 328v1M678.5 329v1M679.5 330v1M680.5 331v2M681.5 333v1M682.5 334v2M683.5 336v1M684.5 337v1M685.5 338v1M686.5 339v1M687.5 340v1M688.5 341v1M689.5 342v1M690.5 343v1M691.5 344v1M694.5 346v1M695.5 347v1M696.5 348v1M697.5 349v2M698.5 351v1M699.5 352v1M700.5 353v1M701.5 354v1M702.5 355v1M714.5 361v1M723.5 366v1M726.5 368v1M727.5 369v1M728.5 370v1M729.5 371v1M730.5 372v1M731.5 373v1M732.5 374v1M733.5 375v1M734.5 376v1M735.5 377v1M736.5 378v1M737.5 379v2M738.5 381v1M739.5 382v1M740.5 383v1M741.5 384v2M742.5 386v1M743.5 387v1M744.5 388v2M745.5 390v1M746.5 391v2M747.5 393v1M748.5 394v1M749.5 395v1M750.5 396v1M751.5 397v1M752.5 398v1M753.5 399v1M754.5 400v1M811.5 400v1M814.5 398v1M815.5 397v1M818.5 395v1M839.5 385v1M842.5 383v1M843.5 382v1M846.5 380v1M847.5 379v1M848.5 378v1M849.5 377v1M850.5 376v1M851.5 375v1M852.5 373v2M853.5 372v1M854.5 370v2M855.5 369v1M856.5 367v2M857.5 366v1M858.5 364v2M859.5 363v1M860.5 361v2M861.5 360v1M862.5 358v2M863.5 357v1M864.5 355v2M865.5 354v1M866.5 352v2M867.5 351v1M868.5 350v1M869.5 349v1M870.5 348v1M871.5 347v1M874.5 345v1M930.5 337v1M931.5 338v1M932.5 339v1M933.5 340v1M934.5 341v1M935.5 342v1M936.5 343v1M937.5 344v1M938.5 345v1M939.5 346v1M942.5 348v1M943.5 349v1M946.5 351v1M976.5 362v1M977.5 363v1M978.5 364v1M983.5 367v1M986.5 369v1M999.5 367v1M1002.5 365v1M1003.5 364v1M1006.5 362v1M1011.5 359v1M1012.5 358v1M1013.5 357v1M1014.5 356v1M1015.5 355v1M1018.5 353v1M1019.5 352v1M1022.5 350v1M1050.5 344v1M1051.5 343v1M1052.5 342v1M1053.5 341v1M1054.5 340v1M1055.5 339v1M1056.5 338v1M1057.5 336v2M1058.5 335v1M1059.5 334v1M1060.5 332v2M1061.5 331v1M1062.5 329v2M1063.5 328v1M1064.5 326v2M1065.5 325v1M1066.5 323v2M1067.5 322v1M1068.5 321v1M1069.5 319v2M1070.5 318v1M1071.5 317v1M1074.5 315v1M1075.5 314v1M1076.5 313v1M1077.5 312v1M1078.5 311v1M1079.5 310v1M1082.5 308v1M1159.5 310v1M1162.5 312v1M1171.5 316v1M1174.5 318v1M1175.5 319v1M1176.5 320v1M1177.5 321v1M1178.5 322v1M1179.5 323v1M1180.5 324v1M1181.5 325v2M1182.5 327v1M1183.5 328v1M1184.5 329v1M1185.5 330v2M1186.5 332v1M1187.5 333v1M1188.5 334v2M1189.5 336v1M1190.5 337v2M1191.5 339v1M1192.5 340v1M1193.5 341v2M1194.5 343v1M1195.5 344v1M1196.5 345v2M1197.5 347v1M1198.5 348v2M1199.5 350v1M1200.5 351v2M1201.5 353v2M1202.5 355v2M1203.5 357v1M1204.5 358v2M1205.5 360v1M1206.5 361v2M1207.5 363v1M1208.5 364v2M1209.5 366v1M1210.5 367v2M1211.5 369v1M1212.5 370v2M1213.5 372v1M1214.5 373v2M1215.5 375v1M1216.5 376v2M1217.5 378v2M1218.5 380v2M1219.5 382v2M1220.5 384v2M1221.5 386v2M1222.5 388v2M1223.5 390v2M1224.5 392v2M1225.5 394v2M1226.5 396v2M1227.5 398v2M1228.5 400v2M1229.5 402v2M1230.5 404v2M1231.5 406v2M1232.5 408v2M1233.5 410v2M1234.5 412v2M1235.5 414v3M1236.5 417v2M1237.5 419v2M1238.5 421v2M1239.5 423v2M1240.5 425v2M1241.5 427v1M1242.5 428v2M1243.5 430v1M1244.5 431v2M1245.5 433v1M1246.5 434v2M1247.5 436v1M1248.5 437v2M1249.5 439v1M1250.5 440v2M1251.5 442v1M1252.5 443v2M1253.5 445v1M1254.5 446v2M1255.5 448v1M1256.5 449v2M1257.5 451v1M1258.5 452v2M1274.5 454v1M1275.5 453v1M1278.5 451v1M1279.5 450v1" fill="none" stroke="#0000cd" stroke-width="1" shape-rendering="crispEdges"/>
<rect x="2" y="25" width="1" height="779" fill="#000" shape-rendering="crispEdges"/>
<g shape-rendering="crispEdges">
</g>
<text transform="translate(1616.3,31.9) scale(0.93,1)">1.14790</text>
<text transform="translate(1616.3,64.9) scale(0.93,1)">1.14370</text>
<text transform="translate(1616.3,97.9) scale(0.93,1)">1.13950</text>
<text transform="translate(1616.3,130.9) scale(0.93,1)">1.13530</text>
<text transform="translate(1616.3,163.9) scale(0.93,1)">1.13110</text>
<text transform="translate(1616.3,196.9) scale(0.93,1)">1.12680</text>
<text transform="translate(1616.3,229.9) scale(0.93,1)">1.12260</text>
<text transform="translate(1616.3,262.9) scale(0.93,1)">1.11840</text>
<text transform="translate(1616.3,295.9) scale(0.93,1)">1.11420</text>
<text transform="translate(1616.3,328.9) scale(0.93,1)">1.11000</text>
<text transform="translate(1616.3,361.9) scale(0.93,1)">1.10580</text>
<text transform="translate(1616.3,394.9) scale(0.93,1)">1.10160</text>
<text transform="translate(1616.3,427.9) scale(0.93,1)">1.09740</text>
<text transform="translate(1616.3,460.9) scale(0.93,1)">1.09310</text>
<text transform="translate(1616.3,493.9) scale(0.93,1)">1.08890</text>
<text transform="translate(1616.3,526.9) scale(0.93,1)">1.08470</text>
<text transform="translate(1616.3,559.9) scale(0.93,1)">1.08050</text>
<text transform="translate(1616.3,592.9) scale(0.93,1)">1.07630</text>
<g shape-rendering="crispEdges">
<rect x="3" y="165" width="1608" height="2" fill="#ff0000"/>
<rect x="1612" y="160" width="41" height="11" fill="#ff0000"/>
<rect x="3" y="245" width="1608" height="2" fill="#ff0000"/>
<rect x="1612" y="240" width="41" height="11" fill="#ff0000"/>
<rect x="3" y="323" width="1608" height="2" fill="#ff0000"/>
<rect x="1612" y="318" width="41" height="11" fill="#ff0000"/>
<rect x="3" y="402" width="1608" height="2" fill="#00ff00"/>
<rect x="1612" y="397" width="41" height="11" fill="#00ff00"/>
<rect x="3" y="496" width="1608" height="2" fill="#0000ff"/>
<rect x="1612" y="491" width="41" height="11" fill="#0000ff"/>
<rect x="3" y="559" width="1608" height="2" fill="#0000cd"/>
<rect x="1612" y="554" width="41" height="11" fill="#0000cd"/>
<rect x="2" y="400" width="6" height="6" fill="#00ff00"/>
<rect x="4" y="402" width="2" height="2" fill="#fff"/>
<rect x="1604" y="400" width="6" height="6" fill="#00ff00"/>
<rect x="1606" y="402" width="2" height="2" fill="#fff"/>
<rect x="2" y="494" width="6" height="6" fill="#0000ff"/>
<rect x="4" y="496" width="2" height="2" fill="#fff"/>
<rect x="1604" y="494" width="6" height="6" fill="#0000ff"/>
<rect x="1606" y="496" width="2" height="2" fill="#fff"/>
<rect x="1612" y="299" width="41" height="11" fill="#000"/>
</g>
<text transform="translate(1616,169.1) scale(0.93,1)" class="w">1.13034</text>
<text transform="translate(1616,249.1) scale(0.93,1)" class="w">1.12004</text>
<text transform="translate(1616,327.1) scale(0.93,1)" class="w">1.11009</text>
<text transform="translate(1616,406.1) scale(0.93,1)" class="w">1.10008</text>
<text transform="translate(1616,500.1) scale(0.93,1)" class="w">1.08800</text>
<text transform="translate(1616,563.1) scale(0.93,1)" class="w">1.08008</text>
<text transform="translate(1616,307.6) scale(0.93,1)" class="w">1.11263</text>
<polygon points="1282,26 1293,26 1287.5,31" fill="#c0c0c0"/>
<polygon points="5.7,32 13,32 9.35,36.3" fill="#000"/>
<text transform="translate(18.1,37) scale(0.93,1)" textLength="68.4" lengthAdjust="spacing">EURUSD,Daily</text>
<text transform="translate(88.1,37) scale(0.93,1)">1.11305</text>
<text transform="translate(124.4,37) scale(0.93,1)">1.11839</text>
<text transform="translate(160.4,37) scale(0.93,1)">1.11195</text>
<text transform="translate(196.7,37) scale(0.93,1)">1.11263</text>
<g shape-rendering="crispEdges" stroke="#c0c0c0" stroke-width="1" stroke-dasharray="3,3">
<line x1="4" y1="626.5" x2="1610" y2="626.5"/><line x1="4" y1="667.5" x2="1610" y2="667.5"/>
</g>
<path d="M1275 621.5h2M1277 622.5h2M357 624.5h3M355 625.5h2M814 626.5h2M1063 626.5h2M352 627.5h2M811 627.5h3M1061 627.5h2M1065 627.5h2M411 628.5h2M809 628.5h2M1059 628.5h2M413 629.5h2M418 629.5h2M807 629.5h2M859 629.5h2M1057 629.5h2M366 630.5h3M408 630.5h2M415 630.5h3M819 630.5h3M857 630.5h2M861 630.5h2M1055 630.5h2M363 631.5h3M369 631.5h2M822 631.5h2M855 631.5h2M863 631.5h2M426 632.5h6M865 632.5h2M1014 632.5h2M1052 632.5h2M404 633.5h2M423 633.5h3M1012 633.5h2M1000 634.5h2M346 636.5h2M850 636.5h2M1008 636.5h2M1263 636.5h5M86 637.5h2M343 637.5h3M847 637.5h3M974 637.5h2M1082 637.5h2M83 638.5h3M970 638.5h4M14 639.5h6M81 639.5h2M790 639.5h2M967 639.5h3M991 639.5h2M1019 639.5h2M11 640.5h3M78 640.5h3M163 640.5h2M787 640.5h3M792 640.5h2M965 640.5h2M993 640.5h2M1021 640.5h2M1075 640.5h5M75 641.5h3M165 641.5h2M169 641.5h2M172 641.5h2M798 641.5h2M832 641.5h2M963 641.5h2M167 642.5h2M178 642.5h2M570 642.5h3M784 642.5h2M795 642.5h3M841 642.5h2M175 643.5h3M260 643.5h2M567 643.5h3M573 643.5h2M578 643.5h2M835 643.5h6M915 643.5h5M1116 643.5h2M67 644.5h3M151 644.5h2M256 644.5h2M266 644.5h2M555 644.5h3M575 644.5h3M70 645.5h2M153 645.5h2M226 645.5h2M263 645.5h3M435 645.5h3M558 645.5h2M687 645.5h3M926 645.5h2M984 645.5h2M1038 645.5h3M1174 645.5h2M4 646.5h2M148 646.5h2M155 646.5h2M308 646.5h2M438 646.5h2M479 646.5h2M690 646.5h4M924 646.5h2M1035 646.5h3M1041 646.5h2M1044 646.5h2M1171 646.5h3M59 647.5h3M157 647.5h3M481 647.5h2M619 647.5h5M694 647.5h2M703 647.5h6M1088 647.5h2M1105 647.5h2M1108 647.5h2M62 648.5h2M709 648.5h2M907 648.5h5M979 648.5h3M1028 648.5h2M1103 648.5h2M194 649.5h2M271 649.5h5M316 649.5h2M446 649.5h2M467 649.5h7M760 649.5h2M767 649.5h5M1101 649.5h2M379 650.5h2M443 650.5h3M474 650.5h2M765 650.5h2M871 650.5h5M1092 650.5h2M1099 650.5h2M242 651.5h2M381 651.5h2M676 651.5h2M763 651.5h2M956 651.5h2M1097 651.5h2M231 652.5h3M238 652.5h4M244 652.5h2M491 652.5h3M931 652.5h2M958 652.5h2M1095 652.5h2M1180 652.5h2M91 653.5h3M183 653.5h2M234 653.5h4M494 653.5h4M933 653.5h2M131 654.5h2M185 654.5h2M188 654.5h2M498 654.5h8M628 654.5h2M666 654.5h3M698 654.5h2M716 654.5h2M935 654.5h2M1123 654.5h7M28 655.5h2M34 655.5h2M279 655.5h2M291 655.5h2M506 655.5h2M663 655.5h3M669 655.5h2M725 655.5h2M937 655.5h2M1130 655.5h2M32 656.5h2M138 656.5h6M281 656.5h2M293 656.5h2M329 656.5h2M455 656.5h2M631 656.5h3M661 656.5h2M723 656.5h2M892 656.5h2M939 656.5h6M107 657.5h2M135 657.5h3M200 657.5h2M283 657.5h3M288 657.5h2M295 657.5h5M327 657.5h2M453 657.5h2M457 657.5h2M634 657.5h2M659 657.5h2M888 657.5h2M945 657.5h2M949 657.5h2M109 658.5h2M286 658.5h2M325 658.5h2M451 658.5h2M459 658.5h5M547 658.5h3M591 658.5h2M610 658.5h4M682 658.5h2M883 658.5h5M895 658.5h3M947 658.5h2M1255 658.5h5M111 659.5h3M323 659.5h2M534 659.5h3M550 659.5h2M593 659.5h2M598 659.5h12M614 659.5h2M898 659.5h4M114 660.5h3M531 660.5h3M537 660.5h2M595 660.5h3M731 660.5h3M738 660.5h4M902 660.5h2M1188 660.5h2M1247 660.5h3M1252 660.5h2M117 661.5h2M216 661.5h2M734 661.5h4M742 661.5h2M1144 661.5h2M1245 661.5h2M1250 661.5h2M119 662.5h5M211 662.5h5M1149 662.5h2M1152 662.5h2M1191 662.5h2M1243 662.5h2M46 663.5h3M1147 663.5h2M1193 663.5h2M43 664.5h3M49 664.5h3M208 664.5h2M511 664.5h3M516 664.5h2M1155 664.5h2M1195 664.5h2M126 665.5h2M514 665.5h2M526 665.5h2M1157 665.5h2M1197 665.5h2M39 666.5h3M523 666.5h3M1159 666.5h5M1199 666.5h2M1201 667.5h2M643 668.5h2M1203 668.5h3M645 669.5h2M1206 669.5h3M647 670.5h9M1209 670.5h2M1215 675.5h7M1222 676.5h4M1226 677.5h6M1232 678.5h2M3.5 647v1M6.5 645v1M7.5 644v1M8.5 643v1M9.5 642v1M10.5 641v1M20.5 640v2M21.5 642v2M22.5 644v2M23.5 646v2M24.5 648v2M25.5 650v2M26.5 652v2M27.5 654v1M30.5 656v1M31.5 657v1M35.5 654v1M36.5 656v3M37.5 659v4M38.5 663v3M39.5 667v1M42.5 665v1M51.5 665v1M52.5 662v2M53.5 659v3M54.5 657v2M55.5 654v3M56.5 652v2M57.5 650v2M58.5 648v2M64.5 647v1M65.5 646v1M66.5 645v1M72.5 644v1M73.5 643v1M74.5 642v1M87.5 638v2M88.5 640v4M89.5 644v4M90.5 648v4M91.5 652v1M91.5 654v1M94.5 652v1M95.5 651v1M96.5 650v1M97.5 648v2M98.5 647v1M99.5 646v1M100.5 647v2M101.5 649v2M102.5 651v2M103.5 653v1M104.5 654v1M105.5 655v1M106.5 656v1M124.5 663v1M125.5 664v1M127.5 666v1M128.5 662v3M129.5 658v4M130.5 655v3M131.5 653v1M133.5 655v1M134.5 656v1M143.5 655v1M144.5 653v2M145.5 651v2M146.5 649v2M147.5 647v2M150.5 645v1M159.5 648v1M160.5 645v2M161.5 643v2M162.5 641v2M171.5 640v1M174.5 642v1M179.5 643v1M180.5 644v3M181.5 647v2M182.5 649v3M183.5 652v1M187.5 655v1M190.5 653v1M191.5 652v1M192.5 651v1M193.5 650v1M195.5 648v1M196.5 650v2M197.5 652v2M198.5 654v2M199.5 656v1M202.5 658v1M203.5 659v1M204.5 660v2M205.5 662v1M206.5 663v2M207.5 665v1M210.5 663v1M218.5 660v1M219.5 658v2M220.5 656v2M221.5 654v2M222.5 652v2M223.5 651v1M224.5 649v2M225.5 647v2M226.5 646v1M227.5 644v1M228.5 646v2M229.5 648v2M230.5 650v2M246.5 653v1M247.5 654v1M248.5 653v1M249.5 651v2M250.5 650v1M251.5 649v1M252.5 648v1M253.5 647v1M254.5 646v1M255.5 645v1M258.5 643v1M259.5 642v1M262.5 644v1M268.5 645v1M269.5 646v2M270.5 648v1M276.5 650v2M277.5 652v1M278.5 653v2M290.5 656v1M300.5 656v1M301.5 655v1M302.5 654v1M303.5 653v1M304.5 651v2M305.5 650v1M306.5 648v2M307.5 647v1M310.5 645v1M311.5 644v1M312.5 645v1M313.5 646v1M314.5 647v1M315.5 648v1M318.5 650v1M319.5 651v2M320.5 653v2M321.5 655v2M322.5 657v2M331.5 655v1M332.5 653v2M333.5 652v1M334.5 650v2M335.5 649v1M336.5 647v2M337.5 646v1M338.5 644v2M339.5 643v1M340.5 641v2M341.5 640v1M342.5 638v2M347.5 635v1M348.5 633v2M349.5 631v2M350.5 629v2M351.5 628v1M354.5 626v1M359.5 623v1M360.5 625v2M361.5 627v2M362.5 629v2M371.5 632v2M372.5 634v2M373.5 636v2M374.5 638v2M375.5 640v2M376.5 642v2M377.5 644v3M378.5 647v2M379.5 649v1M383.5 652v1M384.5 651v1M385.5 649v2M386.5 648v1M387.5 647v1M388.5 648v2M389.5 650v1M390.5 651v2M391.5 653v1M392.5 652v1M393.5 651v1M394.5 650v1M395.5 648v2M396.5 646v2M397.5 643v3M398.5 641v2M399.5 639v2M400.5 638v1M401.5 636v2M402.5 635v1M403.5 634v1M406.5 632v1M407.5 631v1M410.5 629v1M420.5 630v1M421.5 631v1M422.5 632v1M431.5 633v1M432.5 634v3M433.5 637v4M434.5 641v3M435.5 644v1M440.5 647v1M441.5 648v1M442.5 649v1M447.5 650v1M448.5 651v2M449.5 653v2M450.5 655v2M451.5 657v1M463.5 657v1M464.5 655v2M465.5 653v2M466.5 651v2M467.5 650v1M476.5 649v1M477.5 648v1M478.5 647v1M483.5 648v2M484.5 650v2M485.5 652v2M486.5 654v2M487.5 656v1M488.5 655v1M489.5 654v1M490.5 653v1M507.5 656v1M508.5 657v2M509.5 659v2M510.5 661v2M511.5 663v1M518.5 663v1M519.5 662v1M520.5 663v1M521.5 664v1M522.5 665v1M528.5 664v1M529.5 662v2M530.5 661v1M539.5 661v2M540.5 663v2M541.5 665v2M542.5 667v2M543.5 669v2M544.5 666v3M545.5 663v3M546.5 660v3M547.5 659v1M551.5 658v1M552.5 654v4M553.5 650v4M554.5 646v4M555.5 645v1M560.5 643v2M561.5 642v1M562.5 640v2M563.5 639v1M564.5 640v1M565.5 641v1M566.5 642v1M580.5 644v1M581.5 645v2M582.5 647v1M583.5 648v1M584.5 649v2M585.5 651v1M586.5 652v2M587.5 654v1M588.5 655v1M589.5 656v1M590.5 657v1M615.5 658v1M616.5 655v3M617.5 652v3M618.5 649v3M619.5 648v1M624.5 648v2M625.5 650v1M626.5 651v2M627.5 653v1M630.5 655v1M636.5 658v1M637.5 659v1M638.5 660v1M639.5 661v1M640.5 662v2M641.5 664v2M642.5 666v2M655.5 669v1M656.5 666v3M657.5 662v4M658.5 659v3M659.5 658v1M671.5 656v1M672.5 654v2M673.5 653v1M674.5 651v2M675.5 650v1M678.5 652v1M679.5 653v1M680.5 654v2M681.5 656v1M682.5 657v1M683.5 659v1M684.5 654v4M685.5 651v3M686.5 647v4M687.5 646v1M695.5 648v1M696.5 649v2M697.5 651v2M698.5 653v1M699.5 655v1M700.5 652v2M701.5 650v2M702.5 648v2M711.5 649v1M712.5 650v2M713.5 652v1M714.5 653v2M715.5 655v1M718.5 653v1M719.5 652v1M720.5 653v1M721.5 654v1M722.5 655v1M727.5 654v1M728.5 655v2M729.5 657v1M730.5 658v2M744.5 662v1M745.5 663v1M746.5 664v1M747.5 665v1M748.5 663v2M749.5 662v1M750.5 660v2M751.5 659v1M752.5 658v1M753.5 657v1M754.5 656v1M755.5 655v1M756.5 653v2M757.5 651v2M758.5 649v2M759.5 648v1M762.5 650v1M772.5 650v1M773.5 651v2M774.5 653v1M775.5 654v1M776.5 653v1M777.5 651v2M778.5 650v1M779.5 649v1M780.5 647v2M781.5 646v1M782.5 644v2M783.5 643v1M786.5 641v1M794.5 641v1M800.5 639v2M801.5 638v1M802.5 636v2M803.5 635v1M804.5 633v2M805.5 632v1M806.5 630v2M816.5 627v1M817.5 628v1M818.5 629v1M824.5 632v1M825.5 633v2M826.5 635v1M827.5 636v1M828.5 637v1M829.5 638v1M830.5 639v1M831.5 640v1M834.5 642v1M843.5 641v1M844.5 640v1M845.5 639v1M846.5 638v1M852.5 635v1M853.5 633v2M854.5 632v1M867.5 633v3M868.5 636v4M869.5 640v4M870.5 644v4M871.5 648v2M876.5 651v1M877.5 652v1M878.5 653v1M879.5 654v1M880.5 655v1M881.5 656v1M882.5 657v1M890.5 656v1M891.5 655v1M894.5 657v1M903.5 659v1M904.5 656v3M905.5 653v3M906.5 650v3M907.5 649v1M912.5 647v1M913.5 645v2M914.5 644v1M920.5 644v1M921.5 645v1M922.5 646v1M923.5 647v1M927.5 644v1M928.5 646v2M929.5 648v2M930.5 650v2M951.5 656v1M952.5 654v2M953.5 653v1M954.5 651v2M955.5 650v1M959.5 653v1M960.5 649v3M961.5 646v3M962.5 643v3M963.5 642v1M975.5 638v1M976.5 639v3M977.5 642v3M978.5 645v3M979.5 649v1M982.5 647v1M983.5 646v1M986.5 644v1M987.5 643v1M988.5 642v1M989.5 641v1M990.5 640v1M995.5 641v1M996.5 639v2M997.5 638v1M998.5 636v2M999.5 635v1M1002.5 633v1M1003.5 632v1M1004.5 633v1M1005.5 634v2M1006.5 636v1M1007.5 637v1M1010.5 635v1M1011.5 634v1M1015.5 631v1M1016.5 633v2M1017.5 635v2M1018.5 637v2M1023.5 641v1M1024.5 642v2M1025.5 644v1M1026.5 645v2M1027.5 647v1M1030.5 649v1M1031.5 650v1M1032.5 649v1M1033.5 648v1M1034.5 647v1M1043.5 647v1M1046.5 645v1M1047.5 643v2M1048.5 640v3M1049.5 638v2M1050.5 635v3M1051.5 633v2M1054.5 631v1M1067.5 628v1M1068.5 629v1M1069.5 630v1M1070.5 631v1M1071.5 632v2M1072.5 634v2M1073.5 636v2M1074.5 638v2M1080.5 639v1M1081.5 638v1M1083.5 636v1M1084.5 638v2M1085.5 640v3M1086.5 643v2M1087.5 645v2M1090.5 648v1M1091.5 649v1M1094.5 651v1M1107.5 646v1M1110.5 648v1M1111.5 649v1M1112.5 647v2M1113.5 645v2M1114.5 643v2M1115.5 642v1M1118.5 644v1M1119.5 645v2M1120.5 647v2M1121.5 649v2M1122.5 651v2M1123.5 653v1M1132.5 654v1M1133.5 653v1M1134.5 652v1M1135.5 651v1M1136.5 652v1M1137.5 653v2M1138.5 655v1M1139.5 656v1M1140.5 657v1M1141.5 658v1M1142.5 659v1M1143.5 660v1M1146.5 662v1M1151.5 661v1M1154.5 663v1M1163.5 665v1M1164.5 663v2M1165.5 660v3M1166.5 658v2M1167.5 655v3M1168.5 653v2M1169.5 650v3M1170.5 648v2M1171.5 647v1M1176.5 646v2M1177.5 648v1M1178.5 649v2M1179.5 651v1M1182.5 653v1M1183.5 654v1M1184.5 655v1M1185.5 656v2M1186.5 658v1M1187.5 659v1M1190.5 661v1M1211.5 671v1M1212.5 672v1M1213.5 673v1M1214.5 674v1M1234.5 679v1M1235.5 680v1M1236.5 679v1M1237.5 678v1M1238.5 677v1M1239.5 675v2M1240.5 671v4M1241.5 668v3M1242.5 664v4M1243.5 663v1M1254.5 659v1M1259.5 656v2M1260.5 650v6M1261.5 645v5M1262.5 639v6M1263.5 637v2M1268.5 634v2M1269.5 633v1M1270.5 631v2M1271.5 629v2M1272.5 627v2M1273.5 625v2M1274.5 623v2M1275.5 622v1M1279.5 623v1" fill="none" stroke="#1e90ff" stroke-width="1" shape-rendering="crispEdges"/>
<text transform="translate(7,607) scale(0.93,1)" textLength="72.7" lengthAdjust="spacing">RSI(14) 73.4614</text>
<text transform="translate(1614,604.6) scale(0.93,1)">100</text>
<text transform="translate(1614,630.1) scale(0.93,1)">70</text>
<text transform="translate(1614,671.1) scale(0.93,1)">30</text>
<text transform="translate(1614,694.8) scale(0.93,1)">0</text>
<g shape-rendering="crispEdges">
<rect x="3" y="740" width="1" height="8" fill="#c0c0c0"/>
<rect x="7" y="740" width="1" height="6" fill="#c0c0c0"/>
<rect x="11" y="740" width="1" height="3" fill="#c0c0c0"/>
<rect x="15" y="740" width="1" height="1" fill="#c0c0c0"/>
<rect x="19" y="739" width="1" height="2" fill="#c0c0c0"/>
<rect x="23" y="739" width="1" height="2" fill="#c0c0c0"/>
<rect x="27" y="740" width="1" height="1" fill="#c0c0c0"/>
<rect x="31" y="740" width="1" height="3" fill="#c0c0c0"/>
<rect x="35" y="740" width="1" height="5" fill="#c0c0c0"/>
<rect x="39" y="740" width="1" height="12" fill="#c0c0c0"/>
<rect x="43" y="740" width="1" height="16" fill="#c0c0c0"/>
<rect x="47" y="740" width="1" height="20" fill="#c0c0c0"/>
<rect x="51" y="740" width="1" height="23" fill="#c0c0c0"/>
<rect x="55" y="740" width="1" height="22" fill="#c0c0c0"/>
<rect x="59" y="740" width="1" height="19" fill="#c0c0c0"/>
<rect x="63" y="740" width="1" height="17" fill="#c0c0c0"/>
<rect x="67" y="740" width="1" height="13" fill="#c0c0c0"/>
<rect x="71" y="740" width="1" height="11" fill="#c0c0c0"/>
<rect x="75" y="740" width="1" height="8" fill="#c0c0c0"/>
<rect x="79" y="740" width="1" height="5" fill="#c0c0c0"/>
<rect x="83" y="740" width="1" height="2" fill="#c0c0c0"/>
<rect x="87" y="740" width="1" height="1" fill="#c0c0c0"/>
<rect x="91" y="740" width="1" height="2" fill="#c0c0c0"/>
<rect x="95" y="740" width="1" height="3" fill="#c0c0c0"/>
<rect x="99" y="740" width="1" height="2" fill="#c0c0c0"/>
<rect x="103" y="740" width="1" height="5" fill="#c0c0c0"/>
<rect x="107" y="740" width="1" height="8" fill="#c0c0c0"/>
<rect x="111" y="740" width="1" height="12" fill="#c0c0c0"/>
<rect x="115" y="740" width="1" height="15" fill="#c0c0c0"/>
<rect x="119" y="740" width="1" height="18" fill="#c0c0c0"/>
<rect x="123" y="740" width="1" height="21" fill="#c0c0c0"/>
<rect x="127" y="740" width="1" height="24" fill="#c0c0c0"/>
<rect x="131" y="740" width="1" height="23" fill="#c0c0c0"/>
<rect x="135" y="740" width="1" height="24" fill="#c0c0c0"/>
<rect x="139" y="740" width="1" height="24" fill="#c0c0c0"/>
<rect x="143" y="740" width="1" height="23" fill="#c0c0c0"/>
<rect x="147" y="740" width="1" height="20" fill="#c0c0c0"/>
<rect x="151" y="740" width="1" height="16" fill="#c0c0c0"/>
<rect x="155" y="740" width="1" height="13" fill="#c0c0c0"/>
<rect x="159" y="740" width="1" height="12" fill="#c0c0c0"/>
<rect x="163" y="740" width="1" height="7" fill="#c0c0c0"/>
<rect x="167" y="740" width="1" height="4" fill="#c0c0c0"/>
<rect x="171" y="740" width="1" height="2" fill="#c0c0c0"/>
<rect x="175" y="740" width="1" height="1" fill="#c0c0c0"/>
<rect x="179" y="740" width="1" height="1" fill="#c0c0c0"/>
<rect x="183" y="740" width="1" height="1" fill="#c0c0c0"/>
<rect x="187" y="740" width="1" height="4" fill="#c0c0c0"/>
<rect x="191" y="740" width="1" height="5" fill="#c0c0c0"/>
<rect x="195" y="740" width="1" height="5" fill="#c0c0c0"/>
<rect x="199" y="740" width="1" height="8" fill="#c0c0c0"/>
<rect x="203" y="740" width="1" height="11" fill="#c0c0c0"/>
<rect x="207" y="740" width="1" height="17" fill="#c0c0c0"/>
<rect x="211" y="740" width="1" height="21" fill="#c0c0c0"/>
<rect x="215" y="740" width="1" height="23" fill="#c0c0c0"/>
<rect x="219" y="740" width="1" height="24" fill="#c0c0c0"/>
<rect x="223" y="740" width="1" height="22" fill="#c0c0c0"/>
<rect x="227" y="740" width="1" height="18" fill="#c0c0c0"/>
<rect x="231" y="740" width="1" height="17" fill="#c0c0c0"/>
<rect x="235" y="740" width="1" height="17" fill="#c0c0c0"/>
<rect x="239" y="740" width="1" height="17" fill="#c0c0c0"/>
<rect x="243" y="740" width="1" height="15" fill="#c0c0c0"/>
<rect x="247" y="740" width="1" height="16" fill="#c0c0c0"/>
<rect x="251" y="740" width="1" height="14" fill="#c0c0c0"/>
<rect x="255" y="740" width="1" height="11" fill="#c0c0c0"/>
<rect x="259" y="740" width="1" height="8" fill="#c0c0c0"/>
<rect x="263" y="740" width="1" height="6" fill="#c0c0c0"/>
<rect x="267" y="740" width="1" height="4" fill="#c0c0c0"/>
<rect x="271" y="740" width="1" height="4" fill="#c0c0c0"/>
<rect x="275" y="740" width="1" height="4" fill="#c0c0c0"/>
<rect x="279" y="740" width="1" height="7" fill="#c0c0c0"/>
<rect x="283" y="740" width="1" height="9" fill="#c0c0c0"/>
<rect x="287" y="740" width="1" height="11" fill="#c0c0c0"/>
<rect x="291" y="740" width="1" height="12" fill="#c0c0c0"/>
<rect x="295" y="740" width="1" height="13" fill="#c0c0c0"/>
<rect x="299" y="740" width="1" height="14" fill="#c0c0c0"/>
<rect x="303" y="740" width="1" height="14" fill="#c0c0c0"/>
<rect x="307" y="740" width="1" height="12" fill="#c0c0c0"/>
<rect x="311" y="740" width="1" height="9" fill="#c0c0c0"/>
<rect x="315" y="740" width="1" height="8" fill="#c0c0c0"/>
<rect x="319" y="740" width="1" height="8" fill="#c0c0c0"/>
<rect x="323" y="740" width="1" height="11" fill="#c0c0c0"/>
<rect x="327" y="740" width="1" height="12" fill="#c0c0c0"/>
<rect x="331" y="740" width="1" height="13" fill="#c0c0c0"/>
<rect x="335" y="740" width="1" height="12" fill="#c0c0c0"/>
<rect x="339" y="740" width="1" height="9" fill="#c0c0c0"/>
<rect x="343" y="740" width="1" height="4" fill="#c0c0c0"/>
<rect x="347" y="740" width="1" height="1" fill="#c0c0c0"/>
<rect x="351" y="734" width="1" height="7" fill="#c0c0c0"/>
<rect x="355" y="727" width="1" height="14" fill="#c0c0c0"/>
<rect x="359" y="721" width="1" height="20" fill="#c0c0c0"/>
<rect x="363" y="718" width="1" height="23" fill="#c0c0c0"/>
<rect x="367" y="716" width="1" height="25" fill="#c0c0c0"/>
<rect x="371" y="715" width="1" height="26" fill="#c0c0c0"/>
<rect x="375" y="716" width="1" height="25" fill="#c0c0c0"/>
<rect x="379" y="722" width="1" height="19" fill="#c0c0c0"/>
<rect x="383" y="727" width="1" height="14" fill="#c0c0c0"/>
<rect x="387" y="729" width="1" height="12" fill="#c0c0c0"/>
<rect x="391" y="734" width="1" height="7" fill="#c0c0c0"/>
<rect x="395" y="736" width="1" height="5" fill="#c0c0c0"/>
<rect x="399" y="733" width="1" height="8" fill="#c0c0c0"/>
<rect x="403" y="729" width="1" height="12" fill="#c0c0c0"/>
<rect x="407" y="722" width="1" height="19" fill="#c0c0c0"/>
<rect x="411" y="716" width="1" height="25" fill="#c0c0c0"/>
<rect x="415" y="712" width="1" height="29" fill="#c0c0c0"/>
<rect x="419" y="709" width="1" height="32" fill="#c0c0c0"/>
<rect x="423" y="708" width="1" height="33" fill="#c0c0c0"/>
<rect x="427" y="707" width="1" height="34" fill="#c0c0c0"/>
<rect x="431" y="707" width="1" height="34" fill="#c0c0c0"/>
<rect x="435" y="712" width="1" height="29" fill="#c0c0c0"/>
<rect x="439" y="716" width="1" height="25" fill="#c0c0c0"/>
<rect x="443" y="722" width="1" height="19" fill="#c0c0c0"/>
<rect x="447" y="726" width="1" height="15" fill="#c0c0c0"/>
<rect x="451" y="733" width="1" height="8" fill="#c0c0c0"/>
<rect x="455" y="739" width="1" height="2" fill="#c0c0c0"/>
<rect x="459" y="740" width="1" height="3" fill="#c0c0c0"/>
<rect x="463" y="740" width="1" height="8" fill="#c0c0c0"/>
<rect x="467" y="740" width="1" height="7" fill="#c0c0c0"/>
<rect x="471" y="740" width="1" height="7" fill="#c0c0c0"/>
<rect x="475" y="740" width="1" height="7" fill="#c0c0c0"/>
<rect x="479" y="740" width="1" height="6" fill="#c0c0c0"/>
<rect x="483" y="740" width="1" height="6" fill="#c0c0c0"/>
<rect x="487" y="740" width="1" height="9" fill="#c0c0c0"/>
<rect x="491" y="740" width="1" height="10" fill="#c0c0c0"/>
<rect x="495" y="740" width="1" height="11" fill="#c0c0c0"/>
<rect x="499" y="740" width="1" height="12" fill="#c0c0c0"/>
<rect x="503" y="740" width="1" height="12" fill="#c0c0c0"/>
<rect x="507" y="740" width="1" height="13" fill="#c0c0c0"/>
<rect x="511" y="740" width="1" height="18" fill="#c0c0c0"/>
<rect x="515" y="740" width="1" height="22" fill="#c0c0c0"/>
<rect x="519" y="740" width="1" height="24" fill="#c0c0c0"/>
<rect x="523" y="740" width="1" height="27" fill="#c0c0c0"/>
<rect x="527" y="740" width="1" height="29" fill="#c0c0c0"/>
<rect x="531" y="740" width="1" height="30" fill="#c0c0c0"/>
<rect x="535" y="740" width="1" height="29" fill="#c0c0c0"/>
<rect x="539" y="740" width="1" height="29" fill="#c0c0c0"/>
<rect x="543" y="740" width="1" height="34" fill="#c0c0c0"/>
<rect x="547" y="740" width="1" height="34" fill="#c0c0c0"/>
<rect x="551" y="740" width="1" height="33" fill="#c0c0c0"/>
<rect x="555" y="740" width="1" height="27" fill="#c0c0c0"/>
<rect x="559" y="740" width="1" height="22" fill="#c0c0c0"/>
<rect x="563" y="740" width="1" height="15" fill="#c0c0c0"/>
<rect x="567" y="740" width="1" height="11" fill="#c0c0c0"/>
<rect x="571" y="740" width="1" height="7" fill="#c0c0c0"/>
<rect x="575" y="740" width="1" height="5" fill="#c0c0c0"/>
<rect x="579" y="740" width="1" height="3" fill="#c0c0c0"/>
<rect x="583" y="740" width="1" height="3" fill="#c0c0c0"/>
<rect x="587" y="740" width="1" height="6" fill="#c0c0c0"/>
<rect x="591" y="740" width="1" height="10" fill="#c0c0c0"/>
<rect x="595" y="740" width="1" height="15" fill="#c0c0c0"/>
<rect x="599" y="740" width="1" height="18" fill="#c0c0c0"/>
<rect x="603" y="740" width="1" height="20" fill="#c0c0c0"/>
<rect x="607" y="740" width="1" height="21" fill="#c0c0c0"/>
<rect x="611" y="740" width="1" height="22" fill="#c0c0c0"/>
<rect x="615" y="740" width="1" height="23" fill="#c0c0c0"/>
<rect x="619" y="740" width="1" height="20" fill="#c0c0c0"/>
<rect x="623" y="740" width="1" height="17" fill="#c0c0c0"/>
<rect x="627" y="740" width="1" height="17" fill="#c0c0c0"/>
<rect x="631" y="740" width="1" height="18" fill="#c0c0c0"/>
<rect x="635" y="740" width="1" height="19" fill="#c0c0c0"/>
<rect x="639" y="740" width="1" height="21" fill="#c0c0c0"/>
<rect x="643" y="740" width="1" height="27" fill="#c0c0c0"/>
<rect x="647" y="740" width="1" height="32" fill="#c0c0c0"/>
<rect x="651" y="740" width="1" height="37" fill="#c0c0c0"/>
<rect x="655" y="740" width="1" height="40" fill="#c0c0c0"/>
<rect x="659" y="740" width="1" height="38" fill="#c0c0c0"/>
<rect x="663" y="740" width="1" height="35" fill="#c0c0c0"/>
<rect x="667" y="740" width="1" height="32" fill="#c0c0c0"/>
<rect x="671" y="740" width="1" height="31" fill="#c0c0c0"/>
<rect x="675" y="740" width="1" height="27" fill="#c0c0c0"/>
<rect x="679" y="740" width="1" height="25" fill="#c0c0c0"/>
<rect x="683" y="740" width="1" height="26" fill="#c0c0c0"/>
<rect x="687" y="740" width="1" height="21" fill="#c0c0c0"/>
<rect x="691" y="740" width="1" height="17" fill="#c0c0c0"/>
<rect x="695" y="740" width="1" height="15" fill="#c0c0c0"/>
<rect x="699" y="740" width="1" height="17" fill="#c0c0c0"/>
<rect x="703" y="740" width="1" height="14" fill="#c0c0c0"/>
<rect x="707" y="740" width="1" height="12" fill="#c0c0c0"/>
<rect x="711" y="740" width="1" height="11" fill="#c0c0c0"/>
<rect x="715" y="740" width="1" height="13" fill="#c0c0c0"/>
<rect x="719" y="740" width="1" height="14" fill="#c0c0c0"/>
<rect x="723" y="740" width="1" height="16" fill="#c0c0c0"/>
<rect x="727" y="740" width="1" height="17" fill="#c0c0c0"/>
<rect x="731" y="740" width="1" height="20" fill="#c0c0c0"/>
<rect x="735" y="740" width="1" height="24" fill="#c0c0c0"/>
<rect x="739" y="740" width="1" height="26" fill="#c0c0c0"/>
<rect x="743" y="740" width="1" height="28" fill="#c0c0c0"/>
<rect x="747" y="740" width="1" height="31" fill="#c0c0c0"/>
<rect x="751" y="740" width="1" height="31" fill="#c0c0c0"/>
<rect x="755" y="740" width="1" height="30" fill="#c0c0c0"/>
<rect x="759" y="740" width="1" height="26" fill="#c0c0c0"/>
<rect x="763" y="740" width="1" height="24" fill="#c0c0c0"/>
<rect x="767" y="740" width="1" height="21" fill="#c0c0c0"/>
<rect x="771" y="740" width="1" height="19" fill="#c0c0c0"/>
<rect x="775" y="740" width="1" height="19" fill="#c0c0c0"/>
<rect x="779" y="740" width="1" height="17" fill="#c0c0c0"/>
<rect x="783" y="740" width="1" height="12" fill="#c0c0c0"/>
<rect x="787" y="740" width="1" height="7" fill="#c0c0c0"/>
<rect x="791" y="740" width="1" height="3" fill="#c0c0c0"/>
<rect x="795" y="740" width="1" height="1" fill="#c0c0c0"/>
<rect x="799" y="740" width="1" height="1" fill="#c0c0c0"/>
<rect x="803" y="735" width="1" height="6" fill="#c0c0c0"/>
<rect x="807" y="728" width="1" height="13" fill="#c0c0c0"/>
<rect x="811" y="721" width="1" height="20" fill="#c0c0c0"/>
<rect x="815" y="715" width="1" height="26" fill="#c0c0c0"/>
<rect x="819" y="713" width="1" height="28" fill="#c0c0c0"/>
<rect x="823" y="711" width="1" height="30" fill="#c0c0c0"/>
<rect x="827" y="711" width="1" height="30" fill="#c0c0c0"/>
<rect x="831" y="713" width="1" height="28" fill="#c0c0c0"/>
<rect x="835" y="716" width="1" height="25" fill="#c0c0c0"/>
<rect x="839" y="719" width="1" height="22" fill="#c0c0c0"/>
<rect x="843" y="720" width="1" height="21" fill="#c0c0c0"/>
<rect x="847" y="720" width="1" height="21" fill="#c0c0c0"/>
<rect x="851" y="720" width="1" height="21" fill="#c0c0c0"/>
<rect x="855" y="718" width="1" height="23" fill="#c0c0c0"/>
<rect x="859" y="715" width="1" height="26" fill="#c0c0c0"/>
<rect x="863" y="714" width="1" height="27" fill="#c0c0c0"/>
<rect x="867" y="714" width="1" height="27" fill="#c0c0c0"/>
<rect x="871" y="720" width="1" height="21" fill="#c0c0c0"/>
<rect x="875" y="725" width="1" height="16" fill="#c0c0c0"/>
<rect x="879" y="730" width="1" height="11" fill="#c0c0c0"/>
<rect x="883" y="736" width="1" height="5" fill="#c0c0c0"/>
<rect x="887" y="740" width="1" height="1" fill="#c0c0c0"/>
<rect x="891" y="740" width="1" height="3" fill="#c0c0c0"/>
<rect x="895" y="740" width="1" height="7" fill="#c0c0c0"/>
<rect x="899" y="740" width="1" height="10" fill="#c0c0c0"/>
<rect x="903" y="740" width="1" height="13" fill="#c0c0c0"/>
<rect x="907" y="740" width="1" height="11" fill="#c0c0c0"/>
<rect x="911" y="740" width="1" height="10" fill="#c0c0c0"/>
<rect x="915" y="740" width="1" height="7" fill="#c0c0c0"/>
<rect x="919" y="740" width="1" height="5" fill="#c0c0c0"/>
<rect x="923" y="740" width="1" height="4" fill="#c0c0c0"/>
<rect x="927" y="740" width="1" height="3" fill="#c0c0c0"/>
<rect x="931" y="740" width="1" height="4" fill="#c0c0c0"/>
<rect x="935" y="740" width="1" height="6" fill="#c0c0c0"/>
<rect x="939" y="740" width="1" height="8" fill="#c0c0c0"/>
<rect x="943" y="740" width="1" height="10" fill="#c0c0c0"/>
<rect x="947" y="740" width="1" height="12" fill="#c0c0c0"/>
<rect x="951" y="740" width="1" height="13" fill="#c0c0c0"/>
<rect x="955" y="740" width="1" height="12" fill="#c0c0c0"/>
<rect x="959" y="740" width="1" height="12" fill="#c0c0c0"/>
<rect x="963" y="740" width="1" height="8" fill="#c0c0c0"/>
<rect x="967" y="740" width="1" height="5" fill="#c0c0c0"/>
<rect x="971" y="740" width="1" height="1" fill="#c0c0c0"/>
<rect x="975" y="739" width="1" height="2" fill="#c0c0c0"/>
<rect x="979" y="740" width="1" height="1" fill="#c0c0c0"/>
<rect x="983" y="740" width="1" height="1" fill="#c0c0c0"/>
<rect x="987" y="739" width="1" height="2" fill="#c0c0c0"/>
<rect x="991" y="737" width="1" height="4" fill="#c0c0c0"/>
<rect x="995" y="736" width="1" height="5" fill="#c0c0c0"/>
<rect x="999" y="733" width="1" height="8" fill="#c0c0c0"/>
<rect x="1003" y="729" width="1" height="12" fill="#c0c0c0"/>
<rect x="1007" y="728" width="1" height="13" fill="#c0c0c0"/>
<rect x="1011" y="726" width="1" height="15" fill="#c0c0c0"/>
<rect x="1015" y="723" width="1" height="18" fill="#c0c0c0"/>
<rect x="1019" y="723" width="1" height="18" fill="#c0c0c0"/>
<rect x="1023" y="724" width="1" height="17" fill="#c0c0c0"/>
<rect x="1027" y="727" width="1" height="14" fill="#c0c0c0"/>
<rect x="1031" y="730" width="1" height="11" fill="#c0c0c0"/>
<rect x="1035" y="732" width="1" height="9" fill="#c0c0c0"/>
<rect x="1039" y="733" width="1" height="8" fill="#c0c0c0"/>
<rect x="1043" y="734" width="1" height="7" fill="#c0c0c0"/>
<rect x="1047" y="734" width="1" height="7" fill="#c0c0c0"/>
<rect x="1051" y="730" width="1" height="11" fill="#c0c0c0"/>
<rect x="1055" y="726" width="1" height="15" fill="#c0c0c0"/>
<rect x="1059" y="722" width="1" height="19" fill="#c0c0c0"/>
<rect x="1063" y="717" width="1" height="24" fill="#c0c0c0"/>
<rect x="1067" y="714" width="1" height="27" fill="#c0c0c0"/>
<rect x="1071" y="713" width="1" height="28" fill="#c0c0c0"/>
<rect x="1075" y="715" width="1" height="26" fill="#c0c0c0"/>
<rect x="1079" y="717" width="1" height="24" fill="#c0c0c0"/>
<rect x="1083" y="717" width="1" height="24" fill="#c0c0c0"/>
<rect x="1087" y="721" width="1" height="20" fill="#c0c0c0"/>
<rect x="1091" y="725" width="1" height="16" fill="#c0c0c0"/>
<rect x="1095" y="730" width="1" height="11" fill="#c0c0c0"/>
<rect x="1099" y="733" width="1" height="8" fill="#c0c0c0"/>
<rect x="1103" y="735" width="1" height="6" fill="#c0c0c0"/>
<rect x="1107" y="736" width="1" height="5" fill="#c0c0c0"/>
<rect x="1111" y="737" width="1" height="4" fill="#c0c0c0"/>
<rect x="1115" y="736" width="1" height="5" fill="#c0c0c0"/>
<rect x="1119" y="737" width="1" height="4" fill="#c0c0c0"/>
<rect x="1123" y="740" width="1" height="1" fill="#c0c0c0"/>
<rect x="1127" y="740" width="1" height="2" fill="#c0c0c0"/>
<rect x="1131" y="740" width="1" height="4" fill="#c0c0c0"/>
<rect x="1135" y="740" width="1" height="5" fill="#c0c0c0"/>
<rect x="1139" y="740" width="1" height="8" fill="#c0c0c0"/>
<rect x="1143" y="740" width="1" height="11" fill="#c0c0c0"/>
<rect x="1147" y="740" width="1" height="15" fill="#c0c0c0"/>
<rect x="1151" y="740" width="1" height="18" fill="#c0c0c0"/>
<rect x="1155" y="740" width="1" height="21" fill="#c0c0c0"/>
<rect x="1159" y="740" width="1" height="24" fill="#c0c0c0"/>
<rect x="1163" y="740" width="1" height="26" fill="#c0c0c0"/>
<rect x="1167" y="740" width="1" height="25" fill="#c0c0c0"/>
<rect x="1171" y="740" width="1" height="21" fill="#c0c0c0"/>
<rect x="1175" y="740" width="1" height="17" fill="#c0c0c0"/>
<rect x="1179" y="740" width="1" height="16" fill="#c0c0c0"/>
<rect x="1183" y="740" width="1" height="16" fill="#c0c0c0"/>
<rect x="1187" y="740" width="1" height="18" fill="#c0c0c0"/>
<rect x="1191" y="740" width="1" height="21" fill="#c0c0c0"/>
<rect x="1195" y="740" width="1" height="25" fill="#c0c0c0"/>
<rect x="1199" y="740" width="1" height="28" fill="#c0c0c0"/>
<rect x="1203" y="740" width="1" height="32" fill="#c0c0c0"/>
<rect x="1207" y="740" width="1" height="35" fill="#c0c0c0"/>
<rect x="1211" y="740" width="1" height="38" fill="#c0c0c0"/>
<rect x="1215" y="740" width="1" height="44" fill="#c0c0c0"/>
<rect x="1219" y="740" width="1" height="47" fill="#c0c0c0"/>
<rect x="1223" y="740" width="1" height="50" fill="#c0c0c0"/>
<rect x="1227" y="740" width="1" height="53" fill="#c0c0c0"/>
<rect x="1231" y="740" width="1" height="54" fill="#c0c0c0"/>
<rect x="1235" y="740" width="1" height="57" fill="#c0c0c0"/>
<rect x="1239" y="740" width="1" height="58" fill="#c0c0c0"/>
<rect x="1243" y="740" width="1" height="54" fill="#c0c0c0"/>
<rect x="1247" y="740" width="1" height="51" fill="#c0c0c0"/>
<rect x="1251" y="740" width="1" height="47" fill="#c0c0c0"/>
<rect x="1255" y="740" width="1" height="44" fill="#c0c0c0"/>
<rect x="1259" y="740" width="1" height="40" fill="#c0c0c0"/>
<rect x="1263" y="740" width="1" height="29" fill="#c0c0c0"/>
<rect x="1267" y="740" width="1" height="20" fill="#c0c0c0"/>
<rect x="1271" y="740" width="1" height="10" fill="#c0c0c0"/>
<rect x="1275" y="736" width="1" height="5" fill="#c0c0c0"/>
<rect x="1279" y="725" width="1" height="16" fill="#c0c0c0"/>
</g>
<path d="M440 711.5h3M435 712.5h2M446 712.5h3M846 715.5h3M852 715.5h2M840 716.5h2M858 716.5h3M864 716.5h2M428 717.5h2M835 717.5h2M870 717.5h3M1086 717.5h2M1091 717.5h3M876 718.5h2M1097 719.5h2M386 720.5h3M1079 720.5h2M392 721.5h2M883 721.5h2M380 722.5h2M828 722.5h2M1103 722.5h2M1073 723.5h2M399 724.5h2M417 724.5h2M888 724.5h2M404 726.5h3M410 726.5h3M1031 726.5h3M1037 726.5h3M1067 726.5h2M1026 727.5h2M1043 727.5h3M1062 728.5h2M1019 729.5h3M1050 729.5h2M1055 729.5h3M1115 729.5h2M1013 732.5h2M1121 732.5h2M1007 735.5h2M1127 735.5h2M1001 737.5h2M1134 738.5h2M476 740.5h2M995 740.5h2M1139 740.5h2M34 742.5h2M39 743.5h3M195 743.5h3M481 743.5h2M989 743.5h2M1145 743.5h2M27 744.5h3M105 744.5h3M111 744.5h3M190 744.5h2M202 744.5h2M911 744.5h2M45 745.5h2M99 745.5h3M983 745.5h3M117 746.5h2M183 746.5h3M207 746.5h2M352 746.5h2M487 746.5h3M942 746.5h2M21 747.5h2M93 747.5h2M285 747.5h3M291 747.5h3M918 747.5h2M935 747.5h3M947 747.5h3M978 747.5h2M1151 747.5h2M279 748.5h3M346 748.5h2M494 748.5h2M499 748.5h3M595 748.5h3M923 748.5h3M929 748.5h3M954 748.5h2M52 749.5h2M298 749.5h2M959 749.5h3M971 749.5h3M16 750.5h2M88 750.5h2M123 750.5h2M273 750.5h2M303 750.5h3M339 750.5h3M506 750.5h2M589 750.5h2M602 750.5h2M800 750.5h2M965 750.5h3M309 751.5h3M315 751.5h3M321 751.5h3M327 751.5h3M333 751.5h3M511 751.5h3M607 751.5h2M57 752.5h2M267 752.5h3M129 753.5h2M171 753.5h2M219 753.5h2M517 753.5h2M584 753.5h2M9 754.5h2M81 754.5h2M262 754.5h2M613 754.5h2M722 754.5h2M727 754.5h3M63 755.5h3M793 755.5h2M1163 755.5h2M3 756.5h3M225 756.5h2M255 756.5h3M715 756.5h3M734 756.5h2M70 757.5h2M75 757.5h2M135 757.5h2M165 757.5h2M524 757.5h2M619 757.5h3M739 757.5h2M231 758.5h3M250 758.5h2M710 758.5h2M788 758.5h2M1169 758.5h2M243 759.5h3M626 759.5h2M631 759.5h3M142 760.5h2M159 760.5h2M238 760.5h2M529 760.5h2M638 760.5h2M643 760.5h3M745 760.5h2M1175 760.5h3M1181 760.5h3M147 761.5h3M154 761.5h2M703 761.5h2M1187 761.5h3M1193 761.5h3M1199 761.5h3M649 762.5h2M535 763.5h3M572 763.5h2M751 763.5h2M781 763.5h2M1206 763.5h2M775 765.5h3M656 766.5h2M758 766.5h2M770 766.5h2M565 767.5h2M763 767.5h3M691 768.5h2M547 769.5h3M661 769.5h2M553 770.5h3M559 770.5h2M667 771.5h2M686 771.5h2M673 773.5h3M679 773.5h3M1224 777.5h2M1235 786.5h2M1260 790.5h2M1247 792.5h3M1253 792.5h3M11.5 753v1M15.5 751v1M23.5 746v1M33.5 743v1M47.5 746v1M51.5 748v1M59.5 753v1M69.5 756v1M77.5 756v1M83.5 753v1M87.5 751v1M95.5 746v1M119.5 747v1M125.5 751v1M131.5 754v1M137.5 758v1M141.5 759v1M153.5 762v1M161.5 759v1M167.5 756v1M173.5 752v1M177.5 750v1M178.5 749v1M179.5 748v1M189.5 745v1M201.5 743v1M209.5 747v1M213.5 749v1M214.5 750v1M215.5 751v1M221.5 754v1M227.5 757v1M237.5 759v1M249.5 759v1M261.5 755v1M275.5 749v1M297.5 748v1M345.5 749v1M351.5 747v1M357.5 743v1M358.5 742v1M359.5 741v1M363.5 737v1M364.5 736v1M365.5 735v1M369.5 730v2M370.5 729v1M374.5 726v1M375.5 725v1M376.5 724v1M382.5 721v1M394.5 722v1M398.5 723v1M416.5 725v1M422.5 722v1M423.5 721v1M424.5 720v1M430.5 716v1M434.5 713v1M452.5 715v1M453.5 716v1M454.5 717v1M458.5 721v1M459.5 722v1M460.5 723v1M464.5 727v1M465.5 728v2M469.5 733v1M470.5 734v1M471.5 735v1M475.5 739v1M483.5 744v1M493.5 747v1M505.5 749v1M519.5 754v1M523.5 756v1M531.5 761v1M541.5 765v1M542.5 766v1M543.5 767v1M561.5 769v1M567.5 766v1M571.5 764v1M577.5 759v1M578.5 758v1M579.5 757v1M583.5 754v1M591.5 749v1M601.5 749v1M609.5 752v1M615.5 755v1M625.5 758v1M637.5 759v1M651.5 763v1M655.5 765v1M663.5 770v1M669.5 772v1M685.5 772v1M693.5 767v1M697.5 765v1M698.5 764v1M699.5 763v1M705.5 760v1M709.5 759v1M721.5 755v1M733.5 755v1M741.5 758v1M747.5 761v1M753.5 764v1M757.5 765v1M769.5 767v1M783.5 762v1M787.5 759v1M795.5 754v1M799.5 751v1M805.5 746v1M806.5 745v1M807.5 744v1M811.5 740v1M812.5 739v1M813.5 738v1M816.5 734v1M817.5 733v1M818.5 732v1M822.5 728v1M823.5 727v1M824.5 726v1M830.5 721v1M834.5 718v1M842.5 715v1M854.5 716v1M866.5 717v1M878.5 719v1M882.5 720v1M890.5 725v1M894.5 728v1M895.5 729v1M896.5 730v1M900.5 734v1M901.5 735v2M905.5 739v1M906.5 740v1M907.5 741v1M913.5 745v1M917.5 746v1M941.5 747v1M953.5 747v1M977.5 748v1M991.5 742v1M997.5 739v1M1003.5 736v1M1009.5 734v1M1015.5 731v1M1025.5 728v1M1049.5 728v1M1061.5 729v1M1069.5 725v1M1075.5 722v1M1081.5 719v1M1085.5 718v1M1099.5 720v1M1105.5 723v1M1109.5 725v1M1110.5 726v1M1111.5 727v1M1117.5 730v1M1123.5 733v1M1129.5 736v1M1133.5 737v1M1141.5 741v1M1147.5 744v1M1153.5 748v1M1157.5 750v1M1158.5 751v1M1159.5 752v1M1165.5 756v1M1171.5 759v1M1205.5 762v1M1211.5 765v1M1212.5 766v1M1213.5 767v1M1217.5 770v1M1218.5 771v1M1219.5 772v1M1223.5 776v1M1229.5 780v1M1230.5 781v1M1231.5 782v1M1237.5 787v1M1241.5 789v1M1242.5 790v1M1243.5 791v1M1259.5 791v1M1265.5 787v1M1266.5 786v1M1267.5 785v1M1270.5 780v2M1271.5 779v1M1273.5 775v1M1274.5 773v2M1277.5 768v2M1278.5 767v1" fill="none" stroke="#ff0000" stroke-width="1" shape-rendering="crispEdges"/>
<text transform="translate(7,713) scale(0.93,1)" textLength="161.9" lengthAdjust="spacing">MACD(12,26,9) 0.001896 -0.003015</text>
<text transform="translate(1614,710.8) scale(0.93,1)">0.004738</text>
<text transform="translate(1615,744.5) scale(0.93,1)">0.00</text>
<text transform="translate(1614,799.8) scale(0.93,1)">-0.007584</text>
<text transform="translate(2.5,816) scale(0.93,1)">25 Feb 2019</text>
<text transform="translate(66.5,816) scale(0.93,1)">15 Mar 2019</text>
<text transform="translate(130.5,816) scale(0.93,1)">3 Apr 2019</text>
<text transform="translate(194.5,816) scale(0.93,1)">22 Apr 2019</text>
<text transform="translate(258.5,816) scale(0.93,1)">10 May 2019</text>
<text transform="translate(322.5,816) scale(0.93,1)">29 May 2019</text>
<text transform="translate(386.5,816) scale(0.93,1)">17 Jun 2019</text>
<text transform="translate(450.5,816) scale(0.93,1)">5 Jul 2019</text>
<text transform="translate(514.5,816) scale(0.93,1)">24 Jul 2019</text>
<text transform="translate(578.5,816) scale(0.93,1)">12 Aug 2019</text>
<text transform="translate(642.5,816) scale(0.93,1)">30 Aug 2019</text>
<text transform="translate(706.5,816) scale(0.93,1)">18 Sep 2019</text>
<text transform="translate(770.5,816) scale(0.93,1)">7 Oct 2019</text>
<text transform="translate(834.5,816) scale(0.93,1)">25 Oct 2019</text>
<text transform="translate(898.5,816) scale(0.93,1)">13 Nov 2019</text>
<text transform="translate(962.5,816) scale(0.93,1)">2 Dec 2019</text>
<text transform="translate(1026.5,816) scale(0.93,1)">20 Dec 2019</text>
<text transform="translate(1090.5,816) scale(0.93,1)">8 Jan 2020</text>
<text transform="translate(1154.5,816) scale(0.93,1)">27 Jan 2020</text>
<text transform="translate(1218.5,816) scale(0.93,1)">14 Feb 2020</text>
</svg>
<div class="abs" style="left:0;top:824px;width:1655px;height:1px;background:#e9e9e9"></div>
<div id="tabs" class="abs">
<div class="abs" style="left:0;top:0;width:1655px;height:1px;background:#fff"></div>
<div class="abs" style="left:0;top:1px;width:1655px;height:1px;background:#000"></div>
<div class="abs" style="left:0;top:2px;width:1655px;height:1px;background:#f8f8f8"></div>
<div class="abs" style="left:0;top:21px;width:1655px;height:1px;background:#fcfcfc"></div>
<div class="abs" style="left:4px;top:1px;width:102px;height:18px;background:#fff;border:1px solid #000;border-top:none;box-shadow:1px 1px 0 rgba(0,0,0,.3)"></div>
<div class="tab" style="left:16px;color:#000;font-size:11.85px">EURUSD,Daily</div>
<div class="tab" style="left:117.5px">USDCHF,Daily</div>
<div class="tab" style="left:218.5px">AUDUSD,Daily</div>
<div class="tab" style="left:322.5px">USDCAD,Daily</div>
<div class="tab" style="left:425.5px">USDCNH,Daily</div>
<div class="tab" style="left:531.5px">EURUSD,H1</div>
<div class="tab" style="left:623.5px">GBPUSD,Daily</div>
<div class="tab" style="left:726.5px">XAUUSD,H1</div>
<div class="tab" style="left:818.5px">HK50,H1</div>
<div class="tab" style="left:890.5px">UK100,Daily</div>
<div class="tab" style="left:983.5px">UK100,H1</div>
<div class="tab" style="left:1063px">GER30,H1</div>
<div class="tab" style="left:1142px">FRA40,H1</div>
<div class="sep" style="left:208px"></div>
<div class="sep" style="left:311px"></div>
<div class="sep" style="left:414px"></div>
<div class="sep" style="left:518px"></div>
<div class="sep" style="left:611px"></div>
<div class="sep" style="left:714px"></div>
<div class="sep" style="left:807px"></div>
<div class="sep" style="left:880px"></div>
<div class="sep" style="left:972px"></div>
<div class="sep" style="left:1052px"></div>
<div class="sep" style="left:1131px"></div>
<div class="sep" style="left:1208px"></div>
<svg class="abs" style="left:1620px;top:5px" width="35" height="12"><polygon points="9.5,2 9.5,9 5.8,5.5" fill="#a0a0a0"/><polygon points="25,2 25,9 28.7,5.5" fill="#a0a0a0"/></svg>
</div>
</body></html>
